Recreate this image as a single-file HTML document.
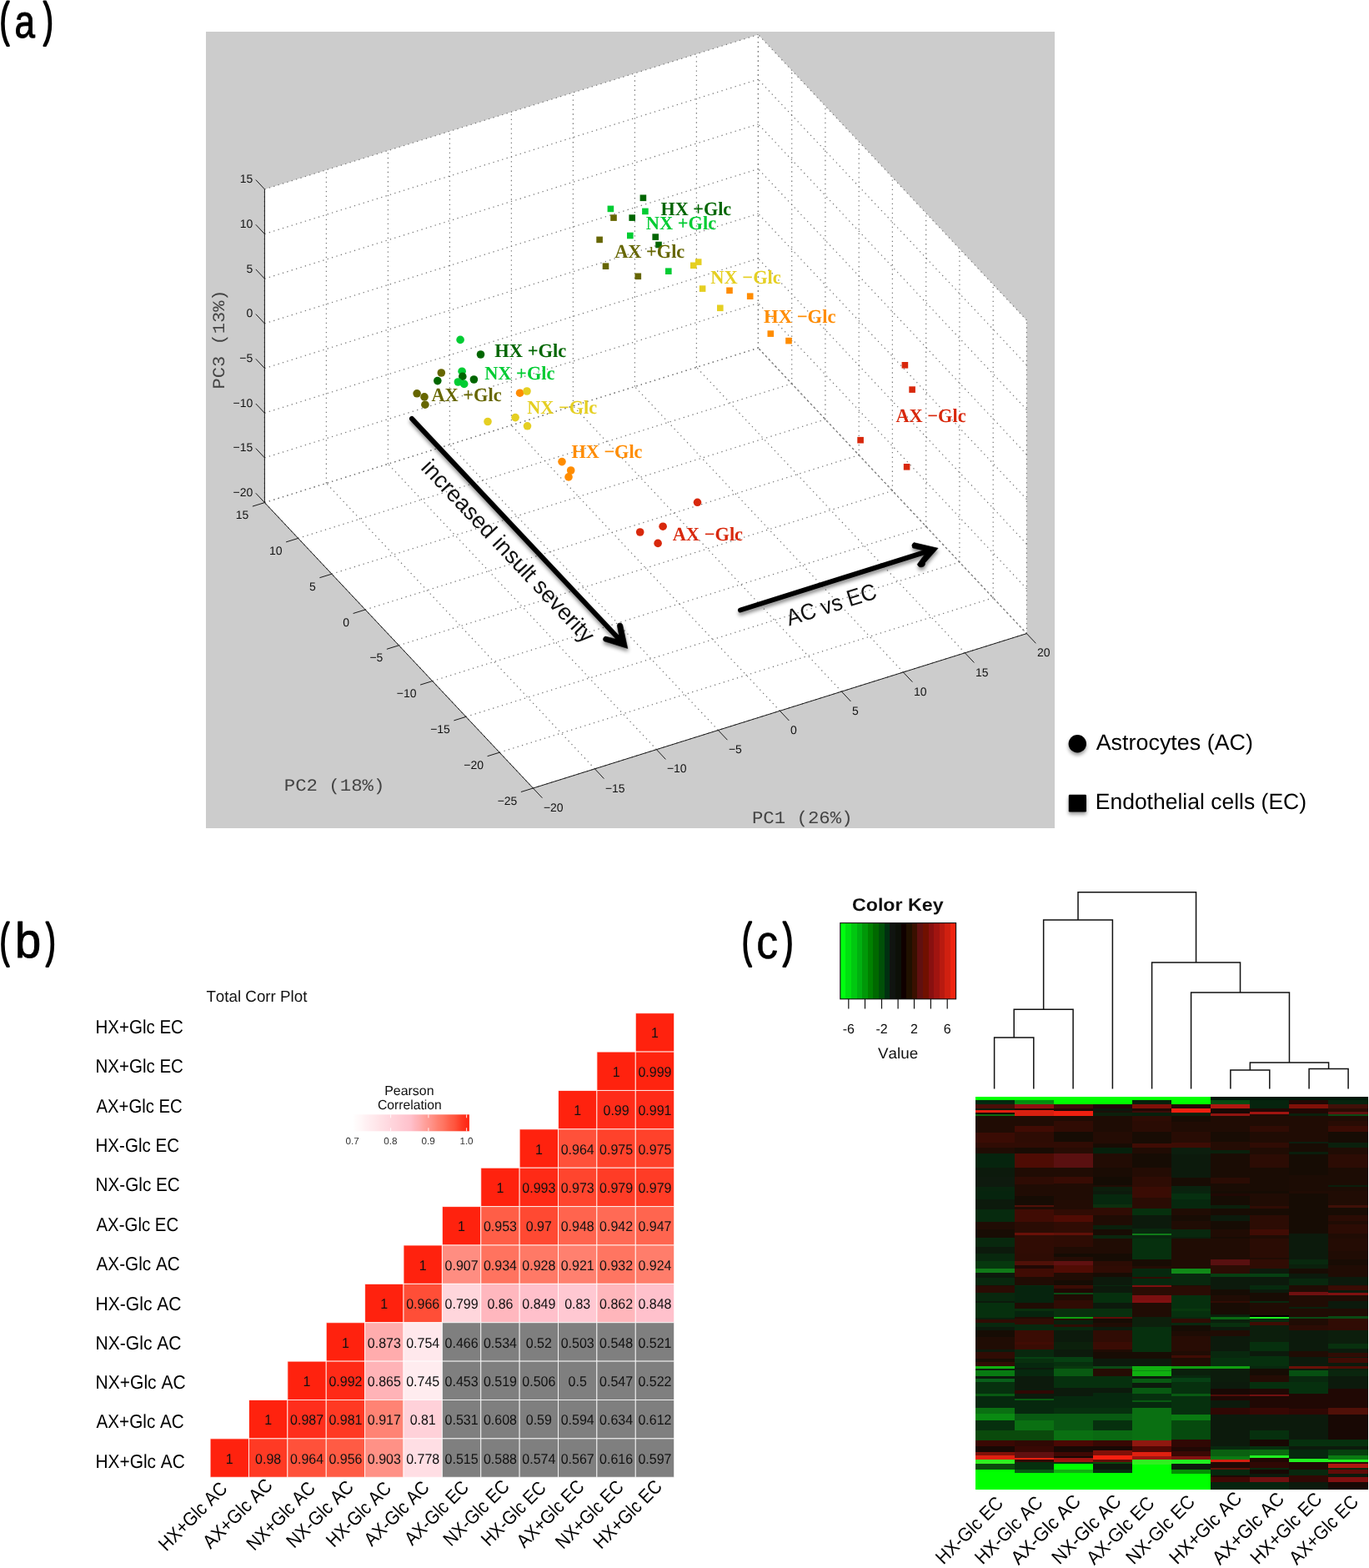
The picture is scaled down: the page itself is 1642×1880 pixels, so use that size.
<!DOCTYPE html><html><head><meta charset="utf-8"><title>Figure</title><style>
html,body{margin:0;padding:0;background:#fff;overflow:hidden}
svg{display:block}
text{font-family:"Liberation Sans",Arial,Helvetica,sans-serif;text-rendering:geometricPrecision;font-kerning:none;font-variant-ligatures:none}
.gd{stroke:#777;stroke-width:1.25;stroke-dasharray:1.3 4.33;fill:none}
.ax{stroke:#1a1a1a;stroke-width:1;fill:none}
.tick text{font-size:14px;fill:#111}
.mono{font-family:"Liberation Mono","Courier New",monospace;font-size:21.5px;fill:#2a2a2a}
.dl text{font-family:"Liberation Serif","Times New Roman",serif;font-weight:bold;font-size:22px}
.arr{font-size:27px;fill:#111}
.leg{font-size:26px;fill:#000}
.plab{font-size:58px;fill:#000}
.hv{fill:#111}
.cv text{font-size:17px;fill:#111;text-anchor:middle}
.cal{font-size:21.5px;fill:#000}
</style></head><body>
<svg width="1642" height="1880" viewBox="0 0 1642 1880">
<defs>
<filter id="sh" x="-20%" y="-20%" width="140%" height="140%"><feDropShadow dx="0.5" dy="3.5" stdDeviation="2.2" flood-color="#000" flood-opacity="0.45"/></filter>
<filter id="sh2" x="-50%" y="-50%" width="200%" height="200%"><feDropShadow dx="0" dy="3" stdDeviation="2" flood-color="#000" flood-opacity="0.4"/></filter>
</defs>
<rect width="1642" height="1880" fill="#fff"/>
<rect x="247" y="38" width="1018" height="955" fill="#cccccc"/>
<polygon fill="#ffffff" points="317.4,226.9 909.4,41.5 1231.4,383.9 1231.4,759.6 639.4,945 317.4,602.6"/>
<g><line class="gd" x1="317.4" y1="602.6" x2="317.4" y2="226.9"/><line class="gd" x1="391.4" y1="579.4" x2="391.4" y2="203.7"/><line class="gd" x1="465.4" y1="556.2" x2="465.4" y2="180.5"/><line class="gd" x1="539.4" y1="533.1" x2="539.4" y2="157.4"/><line class="gd" x1="613.4" y1="509.9" x2="613.4" y2="134.2"/><line class="gd" x1="687.4" y1="486.7" x2="687.4" y2="111"/><line class="gd" x1="761.4" y1="463.6" x2="761.4" y2="87.8"/><line class="gd" x1="835.4" y1="440.4" x2="835.4" y2="64.6"/><line class="gd" x1="909.4" y1="417.2" x2="909.4" y2="41.5"/><line class="gd" x1="317.4" y1="602.6" x2="909.4" y2="417.2"/><line class="gd" x1="317.4" y1="548.9" x2="909.4" y2="363.5"/><line class="gd" x1="317.4" y1="495.2" x2="909.4" y2="309.9"/><line class="gd" x1="317.4" y1="441.6" x2="909.4" y2="256.2"/><line class="gd" x1="317.4" y1="387.9" x2="909.4" y2="202.5"/><line class="gd" x1="317.4" y1="334.2" x2="909.4" y2="148.8"/><line class="gd" x1="317.4" y1="280.5" x2="909.4" y2="95.2"/><line class="gd" x1="317.4" y1="226.9" x2="909.4" y2="41.5"/><line class="gd" x1="1231.4" y1="759.6" x2="1231.4" y2="383.9"/><line class="gd" x1="1191.2" y1="716.8" x2="1191.2" y2="341.1"/><line class="gd" x1="1150.9" y1="674" x2="1150.9" y2="298.3"/><line class="gd" x1="1110.7" y1="631.2" x2="1110.7" y2="255.5"/><line class="gd" x1="1070.4" y1="588.4" x2="1070.4" y2="212.7"/><line class="gd" x1="1030.2" y1="545.6" x2="1030.2" y2="169.9"/><line class="gd" x1="989.9" y1="502.8" x2="989.9" y2="127.1"/><line class="gd" x1="949.7" y1="460" x2="949.7" y2="84.3"/><line class="gd" x1="909.4" y1="417.2" x2="909.4" y2="41.5"/><line class="gd" x1="1231.4" y1="759.6" x2="909.4" y2="417.2"/><line class="gd" x1="1231.4" y1="705.9" x2="909.4" y2="363.5"/><line class="gd" x1="1231.4" y1="652.2" x2="909.4" y2="309.9"/><line class="gd" x1="1231.4" y1="598.6" x2="909.4" y2="256.2"/><line class="gd" x1="1231.4" y1="544.9" x2="909.4" y2="202.5"/><line class="gd" x1="1231.4" y1="491.2" x2="909.4" y2="148.8"/><line class="gd" x1="1231.4" y1="437.6" x2="909.4" y2="95.2"/><line class="gd" x1="1231.4" y1="383.9" x2="909.4" y2="41.5"/><line class="gd" x1="639.4" y1="945" x2="317.4" y2="602.6"/><line class="gd" x1="713.4" y1="921.8" x2="391.4" y2="579.4"/><line class="gd" x1="787.4" y1="898.6" x2="465.4" y2="556.2"/><line class="gd" x1="861.4" y1="875.5" x2="539.4" y2="533.1"/><line class="gd" x1="935.4" y1="852.3" x2="613.4" y2="509.9"/><line class="gd" x1="1009.4" y1="829.1" x2="687.4" y2="486.7"/><line class="gd" x1="1083.4" y1="806" x2="761.4" y2="463.6"/><line class="gd" x1="1157.4" y1="782.8" x2="835.4" y2="440.4"/><line class="gd" x1="1231.4" y1="759.6" x2="909.4" y2="417.2"/><line class="gd" x1="639.4" y1="945" x2="1231.4" y2="759.6"/><line class="gd" x1="599.1" y1="902.2" x2="1191.2" y2="716.8"/><line class="gd" x1="558.9" y1="859.4" x2="1150.9" y2="674"/><line class="gd" x1="518.6" y1="816.6" x2="1110.7" y2="631.2"/><line class="gd" x1="478.4" y1="773.8" x2="1070.4" y2="588.4"/><line class="gd" x1="438.1" y1="731" x2="1030.2" y2="545.6"/><line class="gd" x1="397.9" y1="688.2" x2="989.9" y2="502.8"/><line class="gd" x1="357.6" y1="645.4" x2="949.7" y2="460"/><line class="gd" x1="317.4" y1="602.6" x2="909.4" y2="417.2"/><line class="gd" style="stroke-dashoffset:2.8" x1="909.4" y1="417.2" x2="1231.4" y2="759.6"/></g>
<g><line class="ax" x1="317.4" y1="602.6" x2="317.4" y2="226.9"/><line class="ax" x1="639.4" y1="945" x2="317.4" y2="602.6"/><line class="ax" x1="639.4" y1="945" x2="1231.4" y2="759.6"/><line class="ax" x1="317.4" y1="602.6" x2="306.8" y2="591.3"/><line class="ax" x1="317.4" y1="548.9" x2="306.8" y2="537.6"/><line class="ax" x1="317.4" y1="495.2" x2="306.8" y2="484"/><line class="ax" x1="317.4" y1="441.6" x2="306.8" y2="430.3"/><line class="ax" x1="317.4" y1="387.9" x2="306.8" y2="376.6"/><line class="ax" x1="317.4" y1="334.2" x2="306.8" y2="322.9"/><line class="ax" x1="317.4" y1="280.5" x2="306.8" y2="269.3"/><line class="ax" x1="317.4" y1="226.9" x2="306.8" y2="215.6"/><line class="ax" x1="639.4" y1="945" x2="624.9" y2="949.5"/><line class="ax" x1="599.1" y1="902.2" x2="584.6" y2="906.7"/><line class="ax" x1="558.9" y1="859.4" x2="544.4" y2="863.9"/><line class="ax" x1="518.6" y1="816.6" x2="504.1" y2="821.1"/><line class="ax" x1="478.4" y1="773.8" x2="463.9" y2="778.3"/><line class="ax" x1="438.1" y1="731" x2="423.6" y2="735.5"/><line class="ax" x1="397.9" y1="688.2" x2="383.4" y2="692.7"/><line class="ax" x1="357.6" y1="645.4" x2="343.1" y2="649.9"/><line class="ax" x1="317.4" y1="602.6" x2="302.9" y2="607.1"/><line class="ax" x1="639.4" y1="945" x2="650.4" y2="956.7"/><line class="ax" x1="713.4" y1="921.8" x2="724.4" y2="933.6"/><line class="ax" x1="787.4" y1="898.6" x2="798.4" y2="910.4"/><line class="ax" x1="861.4" y1="875.5" x2="872.4" y2="887.2"/><line class="ax" x1="935.4" y1="852.3" x2="946.4" y2="864"/><line class="ax" x1="1009.4" y1="829.1" x2="1020.4" y2="840.9"/><line class="ax" x1="1083.4" y1="806" x2="1094.4" y2="817.7"/><line class="ax" x1="1157.4" y1="782.8" x2="1168.4" y2="794.5"/><line class="ax" x1="1231.4" y1="759.6" x2="1242.4" y2="771.3"/></g>
<g class="tick"><text x="303.3" y="595.1" text-anchor="end">−20</text><text x="303.3" y="541.4" text-anchor="end">−15</text><text x="303.3" y="487.8" text-anchor="end">−10</text><text x="303.3" y="434.1" text-anchor="end">−5</text><text x="303.3" y="380.4" text-anchor="end">0</text><text x="303.3" y="326.7" text-anchor="end">5</text><text x="303.3" y="273.1" text-anchor="end">10</text><text x="303.3" y="219.4" text-anchor="end">15</text><text x="620.4" y="964.5" text-anchor="end">−25</text><text x="580.1" y="921.7" text-anchor="end">−20</text><text x="539.9" y="878.9" text-anchor="end">−15</text><text x="499.6" y="836.1" text-anchor="end">−10</text><text x="459.4" y="793.3" text-anchor="end">−5</text><text x="419.1" y="750.5" text-anchor="end">0</text><text x="378.9" y="707.7" text-anchor="end">5</text><text x="338.6" y="664.9" text-anchor="end">10</text><text x="298.4" y="622.1" text-anchor="end">15</text><text x="651.9" y="972.7">−20</text><text x="725.9" y="949.6">−15</text><text x="799.9" y="926.4">−10</text><text x="873.9" y="903.2">−5</text><text x="947.9" y="880">0</text><text x="1021.9" y="856.9">5</text><text x="1095.9" y="833.7">10</text><text x="1169.9" y="810.5">15</text><text x="1243.9" y="787.3">20</text></g>
<text style='font-family:"Liberation Mono","Courier New",monospace;font-size:21px;' fill="#444" transform="translate(901.93,986.9) scale(1.0635,1)">PC1 (26%)</text>
<text style='font-family:"Liberation Mono","Courier New",monospace;font-size:20.5px;' fill="#444" transform="translate(340.73,948.2) scale(1.0894,1)">PC2 (18%)</text>
<text style='font-family:"Liberation Mono","Courier New",monospace;font-size:20.5px;' fill="#444" transform="translate(268.7,464.8) rotate(-90) translate(-1.75,0) scale(1.0762,1)">PC3 (13%)</text>
<g><rect x="732.2" y="257.3" width="7.6" height="7.6" fill="#666600"/><rect x="715.3" y="283.6" width="7.6" height="7.6" fill="#666600"/><rect x="722.7" y="315.4" width="7.6" height="7.6" fill="#666600"/><rect x="761.5" y="327.5" width="7.6" height="7.6" fill="#666600"/><rect x="728.6" y="246.6" width="7.6" height="7.6" fill="#00cc33"/><rect x="770.1" y="249.6" width="7.6" height="7.6" fill="#00cc33"/><rect x="752" y="278.7" width="7.6" height="7.6" fill="#00cc33"/><rect x="798" y="321.4" width="7.6" height="7.6" fill="#00cc33"/><rect x="767.6" y="233.5" width="7.6" height="7.6" fill="#006600"/><rect x="754.4" y="257.3" width="7.6" height="7.6" fill="#006600"/><rect x="782.4" y="280.3" width="7.6" height="7.6" fill="#006600"/><rect x="786.2" y="289.7" width="7.6" height="7.6" fill="#006600"/><rect x="833.9" y="310.3" width="7.6" height="7.6" fill="#e5cf22"/><rect x="828" y="314.5" width="7.6" height="7.6" fill="#e5cf22"/><rect x="838.8" y="342.3" width="7.6" height="7.6" fill="#e5cf22"/><rect x="860" y="365.5" width="7.6" height="7.6" fill="#e5cf22"/><rect x="871.2" y="344.5" width="7.6" height="7.6" fill="#ff8c00"/><rect x="895.9" y="351.4" width="7.6" height="7.6" fill="#ff8c00"/><rect x="920.5" y="396.3" width="7.6" height="7.6" fill="#ff8c00"/><rect x="942.2" y="404.8" width="7.6" height="7.6" fill="#ff8c00"/><rect x="1081.6" y="434" width="7.6" height="7.6" fill="#d8280c"/><rect x="1090.3" y="463.3" width="7.6" height="7.6" fill="#d8280c"/><rect x="1028.3" y="523.9" width="7.6" height="7.6" fill="#d8280c"/><rect x="1083.8" y="556" width="7.6" height="7.6" fill="#d8280c"/><circle cx="552.1" cy="407.4" r="4.8" fill="#00cc33"/><circle cx="554.1" cy="445.2" r="4.8" fill="#00cc33"/><circle cx="576.5" cy="425" r="4.8" fill="#006600"/><circle cx="524.8" cy="456.6" r="4.8" fill="#006600"/><circle cx="554.8" cy="451.4" r="4.8" fill="#006600"/><circle cx="568.4" cy="455" r="4.8" fill="#006600"/><circle cx="549.4" cy="458" r="4.8" fill="#00cc33"/><circle cx="556.7" cy="460.4" r="4.8" fill="#00cc33"/><circle cx="529.3" cy="447" r="4.8" fill="#666600"/><circle cx="500.1" cy="471.8" r="4.8" fill="#666600"/><circle cx="509" cy="475.9" r="4.8" fill="#666600"/><circle cx="509.9" cy="485.2" r="4.8" fill="#666600"/><circle cx="623.6" cy="471.2" r="4.8" fill="#ff8c00"/><circle cx="632" cy="469" r="4.8" fill="#e5cf22"/><circle cx="585" cy="505.5" r="4.8" fill="#e5cf22"/><circle cx="618.1" cy="500.6" r="4.8" fill="#e5cf22"/><circle cx="632.5" cy="510.8" r="4.8" fill="#e5cf22"/><circle cx="674" cy="553.6" r="4.8" fill="#ff8c00"/><circle cx="684.7" cy="564" r="4.8" fill="#ff8c00"/><circle cx="682" cy="571.9" r="4.8" fill="#ff8c00"/><circle cx="836.5" cy="602.3" r="4.8" fill="#d8280c"/><circle cx="795.1" cy="631.2" r="4.8" fill="#d8280c"/><circle cx="767.7" cy="638" r="4.8" fill="#d8280c"/><circle cx="789.1" cy="651.4" r="4.8" fill="#d8280c"/></g>
<text style='font-family:"Liberation Serif","Times New Roman",serif;font-size:23px;font-weight:bold;' fill="#006600" transform="translate(792.42,257.5) scale(0.9646,1)">HX +Glc</text>
<text style='font-family:"Liberation Serif","Times New Roman",serif;font-size:23px;font-weight:bold;' fill="#00cc33" transform="translate(774.77,274.6) scale(0.9748,1)">NX +Glc</text>
<text style='font-family:"Liberation Serif","Times New Roman",serif;font-size:23px;font-weight:bold;' fill="#666600" transform="translate(737.18,308.8) scale(0.9712,1)">AX +Glc</text>
<text style='font-family:"Liberation Serif","Times New Roman",serif;font-size:23px;font-weight:bold;' fill="#e5cf22" transform="translate(852.37,339.7) scale(0.9748,1)">NX −Glc</text>
<text style='font-family:"Liberation Serif","Times New Roman",serif;font-size:23px;font-weight:bold;' fill="#ff8c00" transform="translate(916.01,387.2) scale(0.9853,1)">HX −Glc</text>
<text style='font-family:"Liberation Serif","Times New Roman",serif;font-size:23px;font-weight:bold;' fill="#d8280c" transform="translate(1074.48,506.4) scale(0.9712,1)">AX −Glc</text>
<text style='font-family:"Liberation Serif","Times New Roman",serif;font-size:23px;font-weight:bold;' fill="#006600" transform="translate(593.31,427.7) scale(0.9795,1)">HX +Glc</text>
<text style='font-family:"Liberation Serif","Times New Roman",serif;font-size:23px;font-weight:bold;' fill="#00cc33" transform="translate(581.17,454.7) scale(0.9737,1)">NX +Glc</text>
<text style='font-family:"Liberation Serif","Times New Roman",serif;font-size:23px;font-weight:bold;' fill="#666600" transform="translate(517.48,481.3) scale(0.9712,1)">AX +Glc</text>
<text style='font-family:"Liberation Serif","Times New Roman",serif;font-size:23px;font-weight:bold;' fill="#e5cf22" transform="translate(632.28,496.4) scale(0.9690,1)">NX −Glc</text>
<text style='font-family:"Liberation Serif","Times New Roman",serif;font-size:23px;font-weight:bold;' fill="#ff8c00" transform="translate(685.52,548.5) scale(0.9669,1)">HX −Glc</text>
<text style='font-family:"Liberation Serif","Times New Roman",serif;font-size:23px;font-weight:bold;' fill="#d8280c" transform="translate(806.68,647.8) scale(0.9747,1)">AX −Glc</text>
<g filter="url(#sh)"><path d="M494,502 L740,763.5" stroke="#000" stroke-width="6" stroke-linecap="round" fill="none"/><path d="M752.8,777.5 L746.7,749.1 A3.3,3.3 0 0 0 740.3,750 L742.4,761 L737.5,765.9 L726.3,763.1 A3.3,3.3 0 0 0 724.6,768.8 Z" fill="#000" stroke="#000" stroke-width="0.6" stroke-linejoin="round"/><path d="M888,731.5 L1107.5,662.6" stroke="#000" stroke-width="6" stroke-linecap="round" fill="none"/><path d="M1125.1,657.3 L1096.1,650.6 A4.7,4.7 0 0 0 1094.7,656.9 L1106.5,659.8 L1108.5,665.5 L1100.3,676.5 A4.7,4.7 0 0 0 1109.5,674.8 Z" fill="#000" stroke="#000" stroke-width="0.6" stroke-linejoin="round"/></g>
<text style='font-family:"Liberation Sans",Arial,Helvetica,sans-serif;font-size:27.5px;' fill="#111" transform="translate(505,563) rotate(46.8) translate(-1.81,0) scale(0.9843,1)">increased insult severity</text>
<text style='font-family:"Liberation Sans",Arial,Helvetica,sans-serif;font-size:27.5px;' fill="#111" transform="translate(946.5,750.5) rotate(-17.5) translate(-0.05,0) scale(0.9400,1)">AC vs EC</text>
<g filter="url(#sh2)"><circle cx="1292.3" cy="891.7" r="10.7" fill="#000"/><rect x="1281.8" y="952.8" width="21.2" height="20.6" rx="1.2" fill="#000"/></g>
<text style='font-family:"Liberation Sans",Arial,Helvetica,sans-serif;font-size:26.5px;' fill="#000" transform="translate(1314.65,899.3) scale(1.0151,1)">Astrocytes (AC)</text>
<text style='font-family:"Liberation Sans",Arial,Helvetica,sans-serif;font-size:26.5px;' fill="#000" transform="translate(1313.73,969.5) scale(1.0000,1)">Endothelial cells (EC)</text>
<text style='font-family:"Liberation Sans",Arial,Helvetica,sans-serif;font-size:57px' fill="#000" stroke="#000" stroke-width="2.4" stroke-linejoin="round" transform="translate(-0.35,42.8) scale(0.6088,1)">(</text>
<text style='font-family:"Liberation Sans",Arial,Helvetica,sans-serif;font-size:55.67px' fill="#000" stroke="#000" stroke-width="1.1" stroke-linejoin="round" transform="translate(17.58,44.81) scale(0.7903,1)">a</text>
<text style='font-family:"Liberation Sans",Arial,Helvetica,sans-serif;font-size:57px' fill="#000" stroke="#000" stroke-width="2.4" stroke-linejoin="round" transform="translate(51.99,42.8) scale(0.6154,1)">)</text>
<text style='font-family:"Liberation Sans",Arial,Helvetica,sans-serif;font-size:57px' fill="#000" stroke="#000" stroke-width="2.4" stroke-linejoin="round" transform="translate(-0.35,1146.6) scale(0.6088,1)">(</text>
<text style='font-family:"Liberation Sans",Arial,Helvetica,sans-serif;font-size:59.23px' fill="#000" stroke="#000" stroke-width="1" stroke-linejoin="round" transform="translate(17.89,1148.42) scale(0.9460,1)">b</text>
<text style='font-family:"Liberation Sans",Arial,Helvetica,sans-serif;font-size:57px' fill="#000" stroke="#000" stroke-width="2.4" stroke-linejoin="round" transform="translate(54.9,1146.6) scale(0.6088,1)">)</text>
<text style='font-family:"Liberation Sans",Arial,Helvetica,sans-serif;font-size:19px;' fill="#111" transform="translate(247.38,1200.9) scale(0.9884,1)">Total Corr Plot</text>
<g stroke="#ffffff" stroke-width="1" stroke-opacity="0.8"><rect x="762.28" y="1214.7" width="46.38" height="46.38" fill="#ff220e"/><rect x="715.9" y="1261.08" width="46.38" height="46.38" fill="#ff220e"/><rect x="762.28" y="1261.08" width="46.38" height="46.38" fill="#ff240f"/><rect x="669.52" y="1307.46" width="46.38" height="46.38" fill="#ff220e"/><rect x="715.9" y="1307.46" width="46.38" height="46.38" fill="#ff2c19"/><rect x="762.28" y="1307.46" width="46.38" height="46.38" fill="#ff2b18"/><rect x="623.14" y="1353.84" width="46.38" height="46.38" fill="#ff220e"/><rect x="669.52" y="1353.84" width="46.38" height="46.38" fill="#ff513a"/><rect x="715.9" y="1353.84" width="46.38" height="46.38" fill="#ff422b"/><rect x="762.28" y="1353.84" width="46.38" height="46.38" fill="#ff422b"/><rect x="576.76" y="1400.22" width="46.38" height="46.38" fill="#ff220e"/><rect x="623.14" y="1400.22" width="46.38" height="46.38" fill="#ff2a16"/><rect x="669.52" y="1400.22" width="46.38" height="46.38" fill="#ff452e"/><rect x="715.9" y="1400.22" width="46.38" height="46.38" fill="#ff3c26"/><rect x="762.28" y="1400.22" width="46.38" height="46.38" fill="#ff3c26"/><rect x="530.38" y="1446.6" width="46.38" height="46.38" fill="#ff220e"/><rect x="576.76" y="1446.6" width="46.38" height="46.38" fill="#ff5e47"/><rect x="623.14" y="1446.6" width="46.38" height="46.38" fill="#ff4932"/><rect x="669.52" y="1446.6" width="46.38" height="46.38" fill="#ff644e"/><rect x="715.9" y="1446.6" width="46.38" height="46.38" fill="#ff6a55"/><rect x="762.28" y="1446.6" width="46.38" height="46.38" fill="#ff654f"/><rect x="484" y="1492.98" width="46.38" height="46.38" fill="#ff220e"/><rect x="530.38" y="1492.98" width="46.38" height="46.38" fill="#ff8d81"/><rect x="576.76" y="1492.98" width="46.38" height="46.38" fill="#ff735f"/><rect x="623.14" y="1492.98" width="46.38" height="46.38" fill="#ff7966"/><rect x="669.52" y="1492.98" width="46.38" height="46.38" fill="#ff806f"/><rect x="715.9" y="1492.98" width="46.38" height="46.38" fill="#ff7561"/><rect x="762.28" y="1492.98" width="46.38" height="46.38" fill="#ff7d6b"/><rect x="437.62" y="1539.36" width="46.38" height="46.38" fill="#ff220e"/><rect x="484" y="1539.36" width="46.38" height="46.38" fill="#ff4e37"/><rect x="530.38" y="1539.36" width="46.38" height="46.38" fill="#ffd6dc"/><rect x="576.76" y="1539.36" width="46.38" height="46.38" fill="#ffb7be"/><rect x="623.14" y="1539.36" width="46.38" height="46.38" fill="#ffc0cb"/><rect x="669.52" y="1539.36" width="46.38" height="46.38" fill="#ffc8d2"/><rect x="715.9" y="1539.36" width="46.38" height="46.38" fill="#ffb6bb"/><rect x="762.28" y="1539.36" width="46.38" height="46.38" fill="#ffc1cc"/><rect x="391.24" y="1585.74" width="46.38" height="46.38" fill="#ff220e"/><rect x="437.62" y="1585.74" width="46.38" height="46.38" fill="#ffacad"/><rect x="484" y="1585.74" width="46.38" height="46.38" fill="#ffe8ec"/><rect x="530.38" y="1585.74" width="46.38" height="46.38" fill="#7f7f7f"/><rect x="576.76" y="1585.74" width="46.38" height="46.38" fill="#7f7f7f"/><rect x="623.14" y="1585.74" width="46.38" height="46.38" fill="#7f7f7f"/><rect x="669.52" y="1585.74" width="46.38" height="46.38" fill="#7f7f7f"/><rect x="715.9" y="1585.74" width="46.38" height="46.38" fill="#7f7f7f"/><rect x="762.28" y="1585.74" width="46.38" height="46.38" fill="#7f7f7f"/><rect x="344.86" y="1632.12" width="46.38" height="46.38" fill="#ff220e"/><rect x="391.24" y="1632.12" width="46.38" height="46.38" fill="#ff2a17"/><rect x="437.62" y="1632.12" width="46.38" height="46.38" fill="#ffb3b7"/><rect x="484" y="1632.12" width="46.38" height="46.38" fill="#ffecef"/><rect x="530.38" y="1632.12" width="46.38" height="46.38" fill="#7f7f7f"/><rect x="576.76" y="1632.12" width="46.38" height="46.38" fill="#7f7f7f"/><rect x="623.14" y="1632.12" width="46.38" height="46.38" fill="#7f7f7f"/><rect x="669.52" y="1632.12" width="46.38" height="46.38" fill="#7f7f7f"/><rect x="715.9" y="1632.12" width="46.38" height="46.38" fill="#7f7f7f"/><rect x="762.28" y="1632.12" width="46.38" height="46.38" fill="#7f7f7f"/><rect x="298.48" y="1678.5" width="46.38" height="46.38" fill="#ff220e"/><rect x="344.86" y="1678.5" width="46.38" height="46.38" fill="#ff2e1c"/><rect x="391.24" y="1678.5" width="46.38" height="46.38" fill="#ff3923"/><rect x="437.62" y="1678.5" width="46.38" height="46.38" fill="#ff8374"/><rect x="484" y="1678.5" width="46.38" height="46.38" fill="#ffd1d9"/><rect x="530.38" y="1678.5" width="46.38" height="46.38" fill="#7f7f7f"/><rect x="576.76" y="1678.5" width="46.38" height="46.38" fill="#7f7f7f"/><rect x="623.14" y="1678.5" width="46.38" height="46.38" fill="#7f7f7f"/><rect x="669.52" y="1678.5" width="46.38" height="46.38" fill="#7f7f7f"/><rect x="715.9" y="1678.5" width="46.38" height="46.38" fill="#7f7f7f"/><rect x="762.28" y="1678.5" width="46.38" height="46.38" fill="#7f7f7f"/><rect x="252.1" y="1724.88" width="46.38" height="46.38" fill="#ff220e"/><rect x="298.48" y="1724.88" width="46.38" height="46.38" fill="#ff3a24"/><rect x="344.86" y="1724.88" width="46.38" height="46.38" fill="#ff513a"/><rect x="391.24" y="1724.88" width="46.38" height="46.38" fill="#ff5b44"/><rect x="437.62" y="1724.88" width="46.38" height="46.38" fill="#ff9186"/><rect x="484" y="1724.88" width="46.38" height="46.38" fill="#ffdee4"/><rect x="530.38" y="1724.88" width="46.38" height="46.38" fill="#7f7f7f"/><rect x="576.76" y="1724.88" width="46.38" height="46.38" fill="#7f7f7f"/><rect x="623.14" y="1724.88" width="46.38" height="46.38" fill="#7f7f7f"/><rect x="669.52" y="1724.88" width="46.38" height="46.38" fill="#7f7f7f"/><rect x="715.9" y="1724.88" width="46.38" height="46.38" fill="#7f7f7f"/><rect x="762.28" y="1724.88" width="46.38" height="46.38" fill="#7f7f7f"/></g>
<g class="cv"><text transform="translate(785.47,1244.49) scale(0.94,1)">1</text><text transform="translate(739.09,1290.87) scale(0.94,1)">1</text><text transform="translate(785.47,1290.87) scale(0.94,1)">0.999</text><text transform="translate(692.71,1337.25) scale(0.94,1)">1</text><text transform="translate(739.09,1337.25) scale(0.94,1)">0.99</text><text transform="translate(785.47,1337.25) scale(0.94,1)">0.991</text><text transform="translate(646.33,1383.63) scale(0.94,1)">1</text><text transform="translate(692.71,1383.63) scale(0.94,1)">0.964</text><text transform="translate(739.09,1383.63) scale(0.94,1)">0.975</text><text transform="translate(785.47,1383.63) scale(0.94,1)">0.975</text><text transform="translate(599.95,1430.01) scale(0.94,1)">1</text><text transform="translate(646.33,1430.01) scale(0.94,1)">0.993</text><text transform="translate(692.71,1430.01) scale(0.94,1)">0.973</text><text transform="translate(739.09,1430.01) scale(0.94,1)">0.979</text><text transform="translate(785.47,1430.01) scale(0.94,1)">0.979</text><text transform="translate(553.57,1476.39) scale(0.94,1)">1</text><text transform="translate(599.95,1476.39) scale(0.94,1)">0.953</text><text transform="translate(646.33,1476.39) scale(0.94,1)">0.97</text><text transform="translate(692.71,1476.39) scale(0.94,1)">0.948</text><text transform="translate(739.09,1476.39) scale(0.94,1)">0.942</text><text transform="translate(785.47,1476.39) scale(0.94,1)">0.947</text><text transform="translate(507.19,1522.77) scale(0.94,1)">1</text><text transform="translate(553.57,1522.77) scale(0.94,1)">0.907</text><text transform="translate(599.95,1522.77) scale(0.94,1)">0.934</text><text transform="translate(646.33,1522.77) scale(0.94,1)">0.928</text><text transform="translate(692.71,1522.77) scale(0.94,1)">0.921</text><text transform="translate(739.09,1522.77) scale(0.94,1)">0.932</text><text transform="translate(785.47,1522.77) scale(0.94,1)">0.924</text><text transform="translate(460.81,1569.15) scale(0.94,1)">1</text><text transform="translate(507.19,1569.15) scale(0.94,1)">0.966</text><text transform="translate(553.57,1569.15) scale(0.94,1)">0.799</text><text transform="translate(599.95,1569.15) scale(0.94,1)">0.86</text><text transform="translate(646.33,1569.15) scale(0.94,1)">0.849</text><text transform="translate(692.71,1569.15) scale(0.94,1)">0.83</text><text transform="translate(739.09,1569.15) scale(0.94,1)">0.862</text><text transform="translate(785.47,1569.15) scale(0.94,1)">0.848</text><text transform="translate(414.43,1615.53) scale(0.94,1)">1</text><text transform="translate(460.81,1615.53) scale(0.94,1)">0.873</text><text transform="translate(507.19,1615.53) scale(0.94,1)">0.754</text><text transform="translate(553.57,1615.53) scale(0.94,1)">0.466</text><text transform="translate(599.95,1615.53) scale(0.94,1)">0.534</text><text transform="translate(646.33,1615.53) scale(0.94,1)">0.52</text><text transform="translate(692.71,1615.53) scale(0.94,1)">0.503</text><text transform="translate(739.09,1615.53) scale(0.94,1)">0.548</text><text transform="translate(785.47,1615.53) scale(0.94,1)">0.521</text><text transform="translate(368.05,1661.91) scale(0.94,1)">1</text><text transform="translate(414.43,1661.91) scale(0.94,1)">0.992</text><text transform="translate(460.81,1661.91) scale(0.94,1)">0.865</text><text transform="translate(507.19,1661.91) scale(0.94,1)">0.745</text><text transform="translate(553.57,1661.91) scale(0.94,1)">0.453</text><text transform="translate(599.95,1661.91) scale(0.94,1)">0.519</text><text transform="translate(646.33,1661.91) scale(0.94,1)">0.506</text><text transform="translate(692.71,1661.91) scale(0.94,1)">0.5</text><text transform="translate(739.09,1661.91) scale(0.94,1)">0.547</text><text transform="translate(785.47,1661.91) scale(0.94,1)">0.522</text><text transform="translate(321.67,1708.29) scale(0.94,1)">1</text><text transform="translate(368.05,1708.29) scale(0.94,1)">0.987</text><text transform="translate(414.43,1708.29) scale(0.94,1)">0.981</text><text transform="translate(460.81,1708.29) scale(0.94,1)">0.917</text><text transform="translate(507.19,1708.29) scale(0.94,1)">0.81</text><text transform="translate(553.57,1708.29) scale(0.94,1)">0.531</text><text transform="translate(599.95,1708.29) scale(0.94,1)">0.608</text><text transform="translate(646.33,1708.29) scale(0.94,1)">0.59</text><text transform="translate(692.71,1708.29) scale(0.94,1)">0.594</text><text transform="translate(739.09,1708.29) scale(0.94,1)">0.634</text><text transform="translate(785.47,1708.29) scale(0.94,1)">0.612</text><text transform="translate(275.29,1754.67) scale(0.94,1)">1</text><text transform="translate(321.67,1754.67) scale(0.94,1)">0.98</text><text transform="translate(368.05,1754.67) scale(0.94,1)">0.964</text><text transform="translate(414.43,1754.67) scale(0.94,1)">0.956</text><text transform="translate(460.81,1754.67) scale(0.94,1)">0.903</text><text transform="translate(507.19,1754.67) scale(0.94,1)">0.778</text><text transform="translate(553.57,1754.67) scale(0.94,1)">0.515</text><text transform="translate(599.95,1754.67) scale(0.94,1)">0.588</text><text transform="translate(646.33,1754.67) scale(0.94,1)">0.574</text><text transform="translate(692.71,1754.67) scale(0.94,1)">0.567</text><text transform="translate(739.09,1754.67) scale(0.94,1)">0.616</text><text transform="translate(785.47,1754.67) scale(0.94,1)">0.597</text></g>
<defs><linearGradient id="pg" x1="0" x2="1" y1="0" y2="0"><stop offset="0" stop-color="#ffffff"/><stop offset="0.03" stop-color="#fffbfb"/><stop offset="0.07" stop-color="#fff7f8"/><stop offset="0.1" stop-color="#fff2f4"/><stop offset="0.13" stop-color="#ffeef1"/><stop offset="0.17" stop-color="#ffeaed"/><stop offset="0.2" stop-color="#ffe6ea"/><stop offset="0.23" stop-color="#ffe2e6"/><stop offset="0.27" stop-color="#ffdde3"/><stop offset="0.3" stop-color="#ffd9e0"/><stop offset="0.33" stop-color="#ffd5dc"/><stop offset="0.37" stop-color="#ffd1d9"/><stop offset="0.4" stop-color="#ffcdd5"/><stop offset="0.43" stop-color="#ffc8d2"/><stop offset="0.47" stop-color="#ffc4ce"/><stop offset="0.5" stop-color="#ffc0cb"/><stop offset="0.53" stop-color="#ffb7be"/><stop offset="0.57" stop-color="#ffaeb1"/><stop offset="0.6" stop-color="#ffa6a3"/><stop offset="0.63" stop-color="#ff9d97"/><stop offset="0.67" stop-color="#ff938a"/><stop offset="0.7" stop-color="#ff8a7d"/><stop offset="0.73" stop-color="#ff8070"/><stop offset="0.77" stop-color="#ff7764"/><stop offset="0.8" stop-color="#ff6c58"/><stop offset="0.83" stop-color="#ff614b"/><stop offset="0.87" stop-color="#ff563f"/><stop offset="0.9" stop-color="#ff4932"/><stop offset="0.93" stop-color="#ff3a24"/><stop offset="0.97" stop-color="#ff2c19"/><stop offset="1" stop-color="#ff220e"/></linearGradient></defs>
<rect x="423.1" y="1336.3" width="139.8" height="20" fill="url(#pg)"/>
<g stroke="#ffffff" stroke-width="0.9"><line x1="468.6" y1="1336.3" x2="468.6" y2="1340.3"/><line x1="468.6" y1="1352.3" x2="468.6" y2="1356.3"/><line x1="513.9" y1="1336.3" x2="513.9" y2="1340.3"/><line x1="513.9" y1="1352.3" x2="513.9" y2="1356.3"/><line x1="559.6" y1="1336.3" x2="559.6" y2="1340.3"/><line x1="559.6" y1="1352.3" x2="559.6" y2="1356.3"/></g>
<text style='font-family:"Liberation Sans",Arial,Helvetica,sans-serif;font-size:16px;' fill="#111" transform="translate(461.19,1313) scale(0.9958,1)">Pearson</text>
<text style='font-family:"Liberation Sans",Arial,Helvetica,sans-serif;font-size:16px;' fill="#111" transform="translate(453,1330) scale(0.9803,1)">Correlation</text>
<text style="font-family:'Liberation Sans',Arial,sans-serif;font-size:11.7px" x="422.7" y="1371.7" fill="#333" text-anchor="middle">0.7</text>
<text style="font-family:'Liberation Sans',Arial,sans-serif;font-size:11.7px" x="468.3" y="1371.7" fill="#333" text-anchor="middle">0.8</text>
<text style="font-family:'Liberation Sans',Arial,sans-serif;font-size:11.7px" x="513.7" y="1371.7" fill="#333" text-anchor="middle">0.9</text>
<text style="font-family:'Liberation Sans',Arial,sans-serif;font-size:11.7px" x="559.5" y="1371.7" fill="#333" text-anchor="middle">1.0</text>
<text style='font-family:"Liberation Sans",Arial,Helvetica,sans-serif;font-size:23px;' fill="#000" transform="translate(114.52,1239) scale(0.8912,1)">HX+Glc EC</text>
<text style='font-family:"Liberation Sans",Arial,Helvetica,sans-serif;font-size:23px;' fill="#000" transform="translate(114.52,1286.4) scale(0.8912,1)">NX+Glc EC</text>
<text style='font-family:"Liberation Sans",Arial,Helvetica,sans-serif;font-size:23px;' fill="#000" transform="translate(115.46,1334.2) scale(0.8834,1)">AX+Glc EC</text>
<text style='font-family:"Liberation Sans",Arial,Helvetica,sans-serif;font-size:23px;' fill="#000" transform="translate(114.51,1381.3) scale(0.8934,1)">HX-Glc EC</text>
<text style='font-family:"Liberation Sans",Arial,Helvetica,sans-serif;font-size:23px;' fill="#000" transform="translate(114.5,1428.3) scale(0.9007,1)">NX-Glc EC</text>
<text style='font-family:"Liberation Sans",Arial,Helvetica,sans-serif;font-size:23px;' fill="#000" transform="translate(115.46,1475.7) scale(0.8879,1)">AX-Glc EC</text>
<text style='font-family:"Liberation Sans",Arial,Helvetica,sans-serif;font-size:23px;' fill="#000" transform="translate(115.46,1522.9) scale(0.9024,1)">AX-Glc AC</text>
<text style='font-family:"Liberation Sans",Arial,Helvetica,sans-serif;font-size:23px;' fill="#000" transform="translate(114.47,1570.5) scale(0.9171,1)">HX-Glc AC</text>
<text style='font-family:"Liberation Sans",Arial,Helvetica,sans-serif;font-size:23px;' fill="#000" transform="translate(114.47,1618.1) scale(0.9171,1)">NX-Glc AC</text>
<text style='font-family:"Liberation Sans",Arial,Helvetica,sans-serif;font-size:23px;' fill="#000" transform="translate(114.47,1664.7) scale(0.9155,1)">NX+Glc AC</text>
<text style='font-family:"Liberation Sans",Arial,Helvetica,sans-serif;font-size:23px;' fill="#000" transform="translate(115.46,1712.2) scale(0.9006,1)">AX+Glc AC</text>
<text style='font-family:"Liberation Sans",Arial,Helvetica,sans-serif;font-size:23px;' fill="#000" transform="translate(114.49,1759.7) scale(0.9085,1)">HX+Glc AC</text>
<text style='font-family:"Liberation Sans",Arial,Helvetica,sans-serif;font-size:23px;' fill="#000" transform="translate(200.7,1859.5) rotate(-45) translate(-1.68,0) scale(0.8895,1)">HX+Glc AC</text>
<text style='font-family:"Liberation Sans",Arial,Helvetica,sans-serif;font-size:23px;' fill="#000" transform="translate(252.5,1858) rotate(-45) translate(-0.04,0) scale(0.9170,1)">AX+Glc AC</text>
<text style='font-family:"Liberation Sans",Arial,Helvetica,sans-serif;font-size:23px;' fill="#000" transform="translate(306.3,1859) rotate(-45) translate(-1.68,0) scale(0.8895,1)">NX+Glc AC</text>
<text style='font-family:"Liberation Sans",Arial,Helvetica,sans-serif;font-size:23px;' fill="#000" transform="translate(354,1856) rotate(-45) translate(-1.73,0) scale(0.9162,1)">NX-Glc AC</text>
<text style='font-family:"Liberation Sans",Arial,Helvetica,sans-serif;font-size:23px;' fill="#000" transform="translate(401.6,1855) rotate(-45) translate(-1.67,0) scale(0.8825,1)">HX-Glc AC</text>
<text style='font-family:"Liberation Sans",Arial,Helvetica,sans-serif;font-size:23px;' fill="#000" transform="translate(446.1,1855) rotate(-45) translate(-0.04,0) scale(0.8906,1)">AX-Glc AC</text>
<text style='font-family:"Liberation Sans",Arial,Helvetica,sans-serif;font-size:23px;' fill="#000" transform="translate(494.5,1853.9) rotate(-45) translate(-0.04,0) scale(0.8779,1)">AX-Glc EC</text>
<text style='font-family:"Liberation Sans",Arial,Helvetica,sans-serif;font-size:23px;' fill="#000" transform="translate(542.1,1853.9) rotate(-45) translate(-1.69,0) scale(0.8962,1)">NX-Glc EC</text>
<text style='font-family:"Liberation Sans",Arial,Helvetica,sans-serif;font-size:23px;' fill="#000" transform="translate(587.7,1853.9) rotate(-45) translate(-1.65,0) scale(0.8770,1)">HX-Glc EC</text>
<text style='font-family:"Liberation Sans",Arial,Helvetica,sans-serif;font-size:23px;' fill="#000" transform="translate(629.1,1857) rotate(-45) translate(-0.04,0) scale(0.8842,1)">AX+Glc EC</text>
<text style='font-family:"Liberation Sans",Arial,Helvetica,sans-serif;font-size:23px;' fill="#000" transform="translate(676.7,1857) rotate(-45) translate(-1.67,0) scale(0.8826,1)">NX+Glc EC</text>
<text style='font-family:"Liberation Sans",Arial,Helvetica,sans-serif;font-size:23px;' fill="#000" transform="translate(722.3,1857) rotate(-45) translate(-1.68,0) scale(0.8886,1)">HX+Glc EC</text>
<text style='font-family:"Liberation Sans",Arial,Helvetica,sans-serif;font-size:57.53px' fill="#000" stroke="#000" stroke-width="2.4" stroke-linejoin="round" transform="translate(890.02,1146.89) scale(0.6097,1)">(</text>
<text style='font-family:"Liberation Sans",Arial,Helvetica,sans-serif;font-size:56.4px' fill="#000" stroke="#000" stroke-width="0.6" stroke-linejoin="round" transform="translate(907.3,1148.75) scale(0.9170,1)">c</text>
<text style='font-family:"Liberation Sans",Arial,Helvetica,sans-serif;font-size:57.53px' fill="#000" stroke="#000" stroke-width="2.4" stroke-linejoin="round" transform="translate(938.98,1146.89) scale(0.6425,1)">)</text>
<text style='font-family:"Liberation Sans",Arial,Helvetica,sans-serif;font-size:21.3px;font-weight:bold;' fill="#111" transform="translate(1021.95,1091.5) scale(1.0902,1)">Color Key</text>
<g shape-rendering="crispEdges"><rect x="1007.8" y="1106.6" width="7.01" height="91.2" fill="#00ff10"/><rect x="1014.41" y="1106.6" width="7.01" height="91.2" fill="#00e010"/><rect x="1021.02" y="1106.6" width="7.01" height="91.2" fill="#00c810"/><rect x="1027.63" y="1106.6" width="7.01" height="91.2" fill="#00b010"/><rect x="1034.24" y="1106.6" width="7.01" height="91.2" fill="#009808"/><rect x="1040.85" y="1106.6" width="7.01" height="91.2" fill="#008000"/><rect x="1047.46" y="1106.6" width="7.01" height="91.2" fill="#006800"/><rect x="1054.07" y="1106.6" width="7.01" height="91.2" fill="#005008"/><rect x="1060.68" y="1106.6" width="7.01" height="91.2" fill="#003010"/><rect x="1067.29" y="1106.6" width="7.01" height="91.2" fill="#101410"/><rect x="1073.9" y="1106.6" width="7.01" height="91.2" fill="#0c1008"/><rect x="1080.5" y="1106.6" width="7.01" height="91.2" fill="#100000"/><rect x="1087.11" y="1106.6" width="7.01" height="91.2" fill="#201000"/><rect x="1093.72" y="1106.6" width="7.01" height="91.2" fill="#3a1000"/><rect x="1100.33" y="1106.6" width="7.01" height="91.2" fill="#601010"/><rect x="1106.94" y="1106.6" width="7.01" height="91.2" fill="#701000"/><rect x="1113.55" y="1106.6" width="7.01" height="91.2" fill="#881010"/><rect x="1120.16" y="1106.6" width="7.01" height="91.2" fill="#a01410"/><rect x="1126.77" y="1106.6" width="7.01" height="91.2" fill="#b81a10"/><rect x="1133.38" y="1106.6" width="7.01" height="91.2" fill="#d02010"/><rect x="1139.99" y="1106.6" width="7.01" height="91.2" fill="#f02510"/></g>
<rect x="1007.8" y="1106.6" width="138.8" height="91.2" fill="none" stroke="#111" stroke-width="1.1"/>
<g stroke="#111" stroke-width="1.2"><line x1="1017.8" y1="1197.8" x2="1017.8" y2="1209.5"/><line x1="1037.5" y1="1197.8" x2="1037.5" y2="1209.5"/><line x1="1057.5" y1="1197.8" x2="1057.5" y2="1209.5"/><line x1="1077.1" y1="1197.8" x2="1077.1" y2="1209.5"/><line x1="1096.5" y1="1197.8" x2="1096.5" y2="1209.5"/><line x1="1116.4" y1="1197.8" x2="1116.4" y2="1209.5"/><line x1="1136.2" y1="1197.8" x2="1136.2" y2="1209.5"/></g>
<text style="font-family:'Liberation Sans',Arial,sans-serif;font-size:16px" x="1017.8" y="1238.8" fill="#111" text-anchor="middle">-6</text>
<text style="font-family:'Liberation Sans',Arial,sans-serif;font-size:16px" x="1057.5" y="1238.8" fill="#111" text-anchor="middle">-2</text>
<text style="font-family:'Liberation Sans',Arial,sans-serif;font-size:16px" x="1096.5" y="1238.8" fill="#111" text-anchor="middle">2</text>
<text style="font-family:'Liberation Sans',Arial,sans-serif;font-size:16px" x="1136.2" y="1238.8" fill="#111" text-anchor="middle">6</text>
<text style='font-family:"Liberation Sans",Arial,Helvetica,sans-serif;font-size:18.3px;' fill="#111" transform="translate(1053.02,1269.4) scale(1.0281,1)">Value</text>
<path d="M1192.6,1305.4V1244H1239.8V1305.4M1216.2,1244V1210.3H1287.1V1305.4M1251.65,1210.3V1103.1H1334.4V1305.4M1475.9,1305.4V1283.1H1522.8V1305.4M1570.1,1305.4V1281.6H1617.1V1305.4M1499.35,1283.1V1274H1593.6V1281.6M1428.6,1305.4V1190H1546.47V1274M1381.6,1305.4V1153.9H1487.54V1190M1293.03,1103.1V1069.7H1434.57V1153.9" fill="none" stroke="#111" stroke-width="1.5"/>
<g shape-rendering="crispEdges"><rect x="1169.5" y="1314.77" width="47.41" height="4.78" fill="#00ff00"/><rect x="1169.5" y="1319.25" width="47.41" height="5.22" fill="#002a10"/><rect x="1169.5" y="1324.17" width="47.41" height="4.78" fill="#4a0e08"/><rect x="1169.5" y="1328.65" width="47.41" height="2.54" fill="#0d1a0d"/><rect x="1169.5" y="1330.89" width="47.41" height="3.28" fill="#e02010"/><rect x="1169.5" y="1333.87" width="47.41" height="2.09" fill="#1a0a05"/><rect x="1169.5" y="1335.66" width="47.41" height="2.99" fill="#0a6a10"/><rect x="1169.5" y="1338.35" width="47.41" height="19.7" fill="#200c04"/><rect x="1169.5" y="1357.75" width="47.41" height="12.24" fill="#3a0c04"/><rect x="1169.5" y="1369.68" width="47.41" height="7.01" fill="#300c04"/><rect x="1169.5" y="1376.4" width="47.41" height="7.01" fill="#200c04"/><rect x="1169.5" y="1383.11" width="47.41" height="17.46" fill="#06240e"/><rect x="1169.5" y="1400.27" width="47.41" height="11.49" fill="#0c1a0c"/><rect x="1169.5" y="1411.46" width="47.41" height="12.24" fill="#0e1a0e"/><rect x="1169.5" y="1423.4" width="47.41" height="4.9" fill="#08240e"/><rect x="1216.61" y="1314.77" width="47.41" height="4.78" fill="#00ff00"/><rect x="1216.61" y="1319.25" width="47.41" height="5.22" fill="#009010"/><rect x="1216.61" y="1324.17" width="47.41" height="4.78" fill="#901010"/><rect x="1216.61" y="1328.65" width="47.41" height="2.54" fill="#200804"/><rect x="1216.61" y="1330.89" width="47.41" height="7.76" fill="#d82010"/><rect x="1216.61" y="1338.35" width="47.41" height="11.94" fill="#200c04"/><rect x="1216.61" y="1349.99" width="47.41" height="7.76" fill="#400c04"/><rect x="1216.61" y="1357.45" width="47.41" height="12.54" fill="#2e0c04"/><rect x="1216.61" y="1369.68" width="47.41" height="7.01" fill="#300c04"/><rect x="1216.61" y="1376.4" width="47.41" height="7.01" fill="#180c04"/><rect x="1216.61" y="1383.11" width="47.41" height="17.46" fill="#4e0c04"/><rect x="1216.61" y="1400.27" width="47.41" height="11.49" fill="#200c04"/><rect x="1216.61" y="1411.46" width="47.41" height="9.25" fill="#2e0c04"/><rect x="1216.61" y="1420.41" width="47.41" height="7.89" fill="#200c04"/><rect x="1263.72" y="1314.77" width="47.41" height="9.7" fill="#00ff00"/><rect x="1263.72" y="1324.17" width="47.41" height="4.78" fill="#400c08"/><rect x="1263.72" y="1328.65" width="47.41" height="3.28" fill="#200804"/><rect x="1263.72" y="1331.64" width="47.41" height="7.01" fill="#f02010"/><rect x="1263.72" y="1338.35" width="47.41" height="6.27" fill="#200c04"/><rect x="1263.72" y="1344.32" width="47.41" height="13.43" fill="#300c04"/><rect x="1263.72" y="1357.45" width="47.41" height="11.79" fill="#160c04"/><rect x="1263.72" y="1368.94" width="47.41" height="7.76" fill="#300c04"/><rect x="1263.72" y="1376.4" width="47.41" height="7.01" fill="#280c04"/><rect x="1263.72" y="1383.11" width="47.41" height="17.46" fill="#5a1010"/><rect x="1263.72" y="1400.27" width="47.41" height="11.49" fill="#200c04"/><rect x="1263.72" y="1411.46" width="47.41" height="7.76" fill="#380c04"/><rect x="1263.72" y="1418.92" width="47.41" height="9.38" fill="#200c04"/><rect x="1310.83" y="1314.77" width="47.41" height="9.7" fill="#00ff00"/><rect x="1310.83" y="1324.17" width="47.41" height="4.78" fill="#200808"/><rect x="1310.83" y="1328.65" width="47.41" height="3.28" fill="#0c180c"/><rect x="1310.83" y="1331.64" width="47.41" height="2.54" fill="#1a1008"/><rect x="1310.83" y="1333.87" width="47.41" height="4.78" fill="#0c200c"/><rect x="1310.83" y="1338.35" width="47.41" height="19.4" fill="#1e0c04"/><rect x="1310.83" y="1357.45" width="47.41" height="14.03" fill="#240c04"/><rect x="1310.83" y="1371.18" width="47.41" height="5.52" fill="#180c04"/><rect x="1310.83" y="1376.4" width="47.41" height="7.01" fill="#06200c"/><rect x="1310.83" y="1383.11" width="47.41" height="17.46" fill="#220c04"/><rect x="1310.83" y="1400.27" width="47.41" height="11.49" fill="#1a0c04"/><rect x="1310.83" y="1411.46" width="47.41" height="10" fill="#140c04"/><rect x="1310.83" y="1421.16" width="47.41" height="2.54" fill="#200c04"/><rect x="1310.83" y="1423.4" width="47.41" height="4.9" fill="#0c1e0c"/><rect x="1357.94" y="1314.77" width="47.41" height="4.78" fill="#00ff00"/><rect x="1357.94" y="1319.25" width="47.41" height="5.22" fill="#06200c"/><rect x="1357.94" y="1324.17" width="47.41" height="4.78" fill="#801008"/><rect x="1357.94" y="1328.65" width="47.41" height="3.28" fill="#200804"/><rect x="1357.94" y="1331.64" width="47.41" height="2.54" fill="#3a0c08"/><rect x="1357.94" y="1333.87" width="47.41" height="4.78" fill="#06200c"/><rect x="1357.94" y="1338.35" width="47.41" height="6.27" fill="#2e0c04"/><rect x="1357.94" y="1344.32" width="47.41" height="13.43" fill="#2a0c04"/><rect x="1357.94" y="1357.45" width="47.41" height="14.03" fill="#180c04"/><rect x="1357.94" y="1371.18" width="47.41" height="5.52" fill="#400c04"/><rect x="1357.94" y="1376.4" width="47.41" height="7.01" fill="#200c04"/><rect x="1357.94" y="1383.11" width="47.41" height="17.46" fill="#160c04"/><rect x="1357.94" y="1400.27" width="47.41" height="11.49" fill="#240c04"/><rect x="1357.94" y="1411.46" width="47.41" height="12.24" fill="#2e0c04"/><rect x="1357.94" y="1423.4" width="47.41" height="4.9" fill="#3a0c04"/><rect x="1405.05" y="1314.72" width="47.41" height="9.59" fill="#00ff00"/><rect x="1405.05" y="1324" width="47.41" height="5.16" fill="#200804"/><rect x="1405.05" y="1328.87" width="47.41" height="5.02" fill="#f02010"/><rect x="1405.05" y="1333.58" width="47.41" height="4.72" fill="#0a200c"/><rect x="1405.05" y="1338" width="47.41" height="7.67" fill="#180c04"/><rect x="1405.05" y="1345.37" width="47.41" height="12.09" fill="#200c04"/><rect x="1405.05" y="1357.16" width="47.41" height="13.56" fill="#280c04"/><rect x="1405.05" y="1370.43" width="47.41" height="6.2" fill="#3e0c04"/><rect x="1405.05" y="1376.32" width="47.41" height="7.67" fill="#0c1e0e"/><rect x="1405.05" y="1383.69" width="47.41" height="28.3" fill="#0c1a0c"/><rect x="1405.05" y="1411.69" width="47.41" height="10.62" fill="#180c04"/><rect x="1405.05" y="1422.01" width="47.41" height="6.29" fill="#0a220e"/><rect x="1452.16" y="1314.72" width="47.41" height="4.72" fill="#001808"/><rect x="1452.16" y="1319.14" width="47.41" height="5.16" fill="#064a12"/><rect x="1452.16" y="1324" width="47.41" height="5.16" fill="#b01810"/><rect x="1452.16" y="1328.87" width="47.41" height="6.49" fill="#180804"/><rect x="1452.16" y="1335.06" width="47.41" height="3.54" fill="#901410"/><rect x="1452.16" y="1338.3" width="47.41" height="19.17" fill="#200c04"/><rect x="1452.16" y="1357.16" width="47.41" height="12.09" fill="#180c04"/><rect x="1452.16" y="1368.95" width="47.41" height="9.88" fill="#240c04"/><rect x="1452.16" y="1378.53" width="47.41" height="4.72" fill="#0a200c"/><rect x="1452.16" y="1382.96" width="47.41" height="29.04" fill="#1a0c04"/><rect x="1452.16" y="1411.69" width="47.41" height="7.67" fill="#2a0c04"/><rect x="1452.16" y="1419.06" width="47.41" height="9.24" fill="#1a0c04"/><rect x="1499.27" y="1314.72" width="47.41" height="4.72" fill="#001808"/><rect x="1499.27" y="1319.14" width="47.41" height="10.03" fill="#06240e"/><rect x="1499.27" y="1328.87" width="47.41" height="4.28" fill="#200804"/><rect x="1499.27" y="1332.84" width="47.41" height="3.69" fill="#a01410"/><rect x="1499.27" y="1336.23" width="47.41" height="13.86" fill="#200c04"/><rect x="1499.27" y="1349.79" width="47.41" height="7.67" fill="#300c04"/><rect x="1499.27" y="1357.16" width="47.41" height="13.56" fill="#200c04"/><rect x="1499.27" y="1370.43" width="47.41" height="6.2" fill="#300c04"/><rect x="1499.27" y="1376.32" width="47.41" height="7.67" fill="#200c04"/><rect x="1499.27" y="1383.69" width="47.41" height="16.51" fill="#2c0c04"/><rect x="1499.27" y="1399.9" width="47.41" height="28.4" fill="#1a0c04"/><rect x="1546.38" y="1314.72" width="47.41" height="4.72" fill="#001808"/><rect x="1546.38" y="1319.14" width="47.41" height="5.16" fill="#200804"/><rect x="1546.38" y="1324" width="47.41" height="5.16" fill="#801008"/><rect x="1546.38" y="1328.87" width="47.41" height="6.49" fill="#200804"/><rect x="1546.38" y="1335.06" width="47.41" height="3.54" fill="#0a200c"/><rect x="1546.38" y="1338.3" width="47.41" height="30.96" fill="#200c04"/><rect x="1546.38" y="1368.95" width="47.41" height="2.51" fill="#0c1e0e"/><rect x="1546.38" y="1371.16" width="47.41" height="9.88" fill="#180c04"/><rect x="1546.38" y="1380.74" width="47.41" height="3.25" fill="#0a1e0c"/><rect x="1546.38" y="1383.69" width="47.41" height="25.36" fill="#160c04"/><rect x="1546.38" y="1408.75" width="47.41" height="19.55" fill="#1c0c04"/><rect x="1593.49" y="1314.72" width="47.41" height="4.72" fill="#001808"/><rect x="1593.49" y="1319.14" width="47.41" height="5.16" fill="#06240e"/><rect x="1593.49" y="1324" width="47.41" height="5.16" fill="#401008"/><rect x="1593.49" y="1328.87" width="47.41" height="4.28" fill="#280c04"/><rect x="1593.49" y="1332.84" width="47.41" height="3.25" fill="#601010"/><rect x="1593.49" y="1335.79" width="47.41" height="2.81" fill="#0a4a14"/><rect x="1593.49" y="1338.3" width="47.41" height="5.9" fill="#200c04"/><rect x="1593.49" y="1343.9" width="47.41" height="6.2" fill="#280c04"/><rect x="1593.49" y="1349.79" width="47.41" height="7.67" fill="#3a0c04"/><rect x="1593.49" y="1357.16" width="47.41" height="13.56" fill="#160c04"/><rect x="1593.49" y="1370.43" width="47.41" height="6.2" fill="#0a200c"/><rect x="1593.49" y="1376.32" width="47.41" height="7.67" fill="#200c04"/><rect x="1593.49" y="1383.69" width="47.41" height="16.51" fill="#2c0c04"/><rect x="1593.49" y="1399.9" width="47.41" height="20.93" fill="#1c0c04"/><rect x="1593.49" y="1420.54" width="47.41" height="3.25" fill="#0a1e0c"/><rect x="1593.49" y="1423.49" width="47.41" height="4.81" fill="#1c0c04"/><rect x="1169.5" y="1428" width="47.41" height="10.73" fill="#06240e"/><rect x="1169.5" y="1438.43" width="47.41" height="11.49" fill="#0c1a0c"/><rect x="1169.5" y="1449.62" width="47.41" height="15.22" fill="#062a0e"/><rect x="1169.5" y="1464.54" width="47.41" height="10" fill="#200c04"/><rect x="1169.5" y="1474.24" width="47.41" height="10" fill="#180c04"/><rect x="1169.5" y="1483.94" width="47.41" height="11.49" fill="#08280e"/><rect x="1169.5" y="1495.13" width="47.41" height="7.76" fill="#0c1a0c"/><rect x="1169.5" y="1502.59" width="47.41" height="9.25" fill="#08280e"/><rect x="1169.5" y="1511.54" width="47.41" height="10" fill="#06380e"/><rect x="1169.5" y="1521.24" width="47.41" height="5.52" fill="#107a18"/><rect x="1169.5" y="1526.46" width="47.41" height="6.27" fill="#0c1a0c"/><rect x="1169.5" y="1532.43" width="47.41" height="8.51" fill="#08280e"/><rect x="1169.5" y="1540.64" width="47.41" height="1.66" fill="#200c04"/><rect x="1216.61" y="1428" width="47.41" height="6.25" fill="#200c04"/><rect x="1216.61" y="1433.95" width="47.41" height="11.49" fill="#160c04"/><rect x="1216.61" y="1445.14" width="47.41" height="2.54" fill="#501008"/><rect x="1216.61" y="1447.38" width="47.41" height="2.54" fill="#200c04"/><rect x="1216.61" y="1449.62" width="47.41" height="15.22" fill="#400c04"/><rect x="1216.61" y="1464.54" width="47.41" height="13.73" fill="#2a0c04"/><rect x="1216.61" y="1477.97" width="47.41" height="3.28" fill="#6a1008"/><rect x="1216.61" y="1480.95" width="47.41" height="21.94" fill="#300c04"/><rect x="1216.61" y="1502.59" width="47.41" height="10" fill="#2e0c04"/><rect x="1216.61" y="1512.29" width="47.41" height="4.78" fill="#501008"/><rect x="1216.61" y="1516.76" width="47.41" height="4.78" fill="#200804"/><rect x="1216.61" y="1521.24" width="47.41" height="10" fill="#400c04"/><rect x="1216.61" y="1530.94" width="47.41" height="10" fill="#200c04"/><rect x="1216.61" y="1540.64" width="47.41" height="1.66" fill="#062a0e"/><rect x="1263.72" y="1428" width="47.41" height="11.47" fill="#200c04"/><rect x="1263.72" y="1439.17" width="47.41" height="10.74" fill="#220c04"/><rect x="1263.72" y="1449.62" width="47.41" height="7.76" fill="#300c04"/><rect x="1263.72" y="1457.08" width="47.41" height="7.76" fill="#500c04"/><rect x="1263.72" y="1464.54" width="47.41" height="13.73" fill="#300c04"/><rect x="1263.72" y="1477.97" width="47.41" height="3.28" fill="#601008"/><rect x="1263.72" y="1480.95" width="47.41" height="14.47" fill="#2e0c04"/><rect x="1263.72" y="1495.13" width="47.41" height="7.76" fill="#200c04"/><rect x="1263.72" y="1502.59" width="47.41" height="4.78" fill="#140c04"/><rect x="1263.72" y="1507.07" width="47.41" height="5.52" fill="#240c04"/><rect x="1263.72" y="1512.29" width="47.41" height="4.78" fill="#601010"/><rect x="1263.72" y="1516.76" width="47.41" height="10" fill="#500c04"/><rect x="1263.72" y="1526.46" width="47.41" height="8.51" fill="#200c04"/><rect x="1263.72" y="1534.67" width="47.41" height="6.27" fill="#160c04"/><rect x="1263.72" y="1540.64" width="47.41" height="1.66" fill="#400c04"/><rect x="1310.83" y="1428" width="47.41" height="4.76" fill="#0c1a0c"/><rect x="1310.83" y="1432.46" width="47.41" height="12.24" fill="#06280e"/><rect x="1310.83" y="1444.4" width="47.41" height="4.03" fill="#0c300e"/><rect x="1310.83" y="1448.13" width="47.41" height="9.25" fill="#300c04"/><rect x="1310.83" y="1457.08" width="47.41" height="12.24" fill="#200c04"/><rect x="1310.83" y="1469.02" width="47.41" height="5.52" fill="#0a200c"/><rect x="1310.83" y="1474.24" width="47.41" height="7.01" fill="#180c04"/><rect x="1310.83" y="1480.95" width="47.41" height="4.78" fill="#0a260e"/><rect x="1310.83" y="1485.43" width="47.41" height="17.46" fill="#200c04"/><rect x="1310.83" y="1502.59" width="47.41" height="9.25" fill="#160c04"/><rect x="1310.83" y="1511.54" width="47.41" height="6.27" fill="#2c0c04"/><rect x="1310.83" y="1517.51" width="47.41" height="9.25" fill="#300c04"/><rect x="1310.83" y="1526.46" width="47.41" height="4.78" fill="#180c04"/><rect x="1310.83" y="1530.94" width="47.41" height="10" fill="#0c1a0c"/><rect x="1310.83" y="1540.64" width="47.41" height="1.66" fill="#08280e"/><rect x="1357.94" y="1428" width="47.41" height="8.49" fill="#3a0c04"/><rect x="1357.94" y="1436.19" width="47.41" height="12.98" fill="#2a0c04"/><rect x="1357.94" y="1448.87" width="47.41" height="8.51" fill="#06300e"/><rect x="1357.94" y="1457.08" width="47.41" height="16.71" fill="#0c1a0c"/><rect x="1357.94" y="1473.49" width="47.41" height="5.52" fill="#08280e"/><rect x="1357.94" y="1478.72" width="47.41" height="2.54" fill="#107a18"/><rect x="1357.94" y="1480.95" width="47.41" height="4.03" fill="#08280e"/><rect x="1357.94" y="1484.68" width="47.41" height="25.67" fill="#06300e"/><rect x="1357.94" y="1510.05" width="47.41" height="7.76" fill="#180c04"/><rect x="1357.94" y="1517.51" width="47.41" height="4.03" fill="#240c04"/><rect x="1357.94" y="1521.24" width="47.41" height="10" fill="#06280e"/><rect x="1357.94" y="1530.94" width="47.41" height="2.54" fill="#300c04"/><rect x="1357.94" y="1533.18" width="47.41" height="7.76" fill="#06280e"/><rect x="1357.94" y="1540.64" width="47.41" height="1.66" fill="#7a1010"/><rect x="1405.05" y="1428" width="47.41" height="3.2" fill="#08240e"/><rect x="1405.05" y="1430.9" width="47.41" height="7.67" fill="#063010"/><rect x="1405.05" y="1438.26" width="47.41" height="11.35" fill="#06280e"/><rect x="1405.05" y="1449.32" width="47.41" height="7.67" fill="#200c04"/><rect x="1405.05" y="1456.69" width="47.41" height="7.67" fill="#180c04"/><rect x="1405.05" y="1464.06" width="47.41" height="9.88" fill="#200c04"/><rect x="1405.05" y="1473.64" width="47.41" height="9.88" fill="#08280e"/><rect x="1405.05" y="1483.22" width="47.41" height="2.51" fill="#0a200c"/><rect x="1405.05" y="1485.43" width="47.41" height="35.67" fill="#200c04"/><rect x="1405.05" y="1520.8" width="47.41" height="6.2" fill="#108a18"/><rect x="1405.05" y="1526.69" width="47.41" height="14.3" fill="#08280e"/><rect x="1405.05" y="1540.7" width="47.41" height="1.6" fill="#200c04"/><rect x="1452.16" y="1428" width="47.41" height="3.2" fill="#160c04"/><rect x="1452.16" y="1430.9" width="47.41" height="3.25" fill="#200804"/><rect x="1452.16" y="1433.84" width="47.41" height="11.35" fill="#160c04"/><rect x="1452.16" y="1444.9" width="47.41" height="4.72" fill="#0a200c"/><rect x="1452.16" y="1449.32" width="47.41" height="7.67" fill="#180c04"/><rect x="1452.16" y="1456.69" width="47.41" height="7.67" fill="#0c1a0c"/><rect x="1452.16" y="1464.06" width="47.41" height="9.88" fill="#160c04"/><rect x="1452.16" y="1473.64" width="47.41" height="9.88" fill="#200c04"/><rect x="1452.16" y="1483.22" width="47.41" height="2.51" fill="#180c04"/><rect x="1452.16" y="1485.43" width="47.41" height="25.36" fill="#200c04"/><rect x="1452.16" y="1510.48" width="47.41" height="6.93" fill="#581010"/><rect x="1452.16" y="1517.11" width="47.41" height="9.88" fill="#2c0c04"/><rect x="1452.16" y="1526.69" width="47.41" height="4.72" fill="#064012"/><rect x="1452.16" y="1531.12" width="47.41" height="11.18" fill="#0c1a0c"/><rect x="1499.27" y="1428" width="47.41" height="3.2" fill="#160c04"/><rect x="1499.27" y="1430.9" width="47.41" height="15.04" fill="#200c04"/><rect x="1499.27" y="1445.63" width="47.41" height="3.25" fill="#300c04"/><rect x="1499.27" y="1448.58" width="47.41" height="8.41" fill="#180c04"/><rect x="1499.27" y="1456.69" width="47.41" height="17.25" fill="#2c0c04"/><rect x="1499.27" y="1473.64" width="47.41" height="7.67" fill="#400c04"/><rect x="1499.27" y="1481.01" width="47.41" height="4.72" fill="#200c04"/><rect x="1499.27" y="1485.43" width="47.41" height="22.41" fill="#2a0c04"/><rect x="1499.27" y="1507.54" width="47.41" height="3.25" fill="#200c04"/><rect x="1499.27" y="1510.48" width="47.41" height="10.62" fill="#300c04"/><rect x="1499.27" y="1520.8" width="47.41" height="6.2" fill="#0c1a0c"/><rect x="1499.27" y="1526.69" width="47.41" height="4.72" fill="#064012"/><rect x="1499.27" y="1531.12" width="47.41" height="9.88" fill="#0c1a0c"/><rect x="1499.27" y="1540.7" width="47.41" height="1.6" fill="#08280e"/><rect x="1546.38" y="1428" width="47.41" height="3.2" fill="#200c04"/><rect x="1546.38" y="1430.9" width="47.41" height="48.2" fill="#160c04"/><rect x="1546.38" y="1478.8" width="47.41" height="31.99" fill="#0c1a0c"/><rect x="1546.38" y="1510.48" width="47.41" height="6.2" fill="#08280e"/><rect x="1546.38" y="1516.38" width="47.41" height="4.72" fill="#0a200c"/><rect x="1546.38" y="1520.8" width="47.41" height="6.2" fill="#180c04"/><rect x="1546.38" y="1526.69" width="47.41" height="6.93" fill="#0c1a0c"/><rect x="1546.38" y="1533.33" width="47.41" height="7.67" fill="#08280e"/><rect x="1546.38" y="1540.7" width="47.41" height="1.6" fill="#200c04"/><rect x="1593.49" y="1428" width="47.41" height="17.2" fill="#200c04"/><rect x="1593.49" y="1444.9" width="47.41" height="3.25" fill="#401008"/><rect x="1593.49" y="1447.84" width="47.41" height="9.14" fill="#180c04"/><rect x="1593.49" y="1456.69" width="47.41" height="7.67" fill="#2a0c04"/><rect x="1593.49" y="1464.06" width="47.41" height="4.72" fill="#200c04"/><rect x="1593.49" y="1468.48" width="47.41" height="10.62" fill="#2c0c04"/><rect x="1593.49" y="1478.8" width="47.41" height="6.93" fill="#200c04"/><rect x="1593.49" y="1485.43" width="47.41" height="15.04" fill="#240c04"/><rect x="1593.49" y="1500.17" width="47.41" height="10.62" fill="#200c04"/><rect x="1593.49" y="1510.48" width="47.41" height="6.93" fill="#180c04"/><rect x="1593.49" y="1517.11" width="47.41" height="14.3" fill="#200c04"/><rect x="1593.49" y="1531.12" width="47.41" height="9.88" fill="#0c1a0c"/><rect x="1593.49" y="1540.7" width="47.41" height="1.6" fill="#300c04"/><rect x="1169.5" y="1542" width="47.41" height="8.74" fill="#2a0c04"/><rect x="1169.5" y="1550.44" width="47.41" height="10" fill="#08280e"/><rect x="1169.5" y="1560.14" width="47.41" height="2.54" fill="#0c1a0c"/><rect x="1169.5" y="1562.38" width="47.41" height="17.46" fill="#06300e"/><rect x="1169.5" y="1579.54" width="47.41" height="2.54" fill="#0a200c"/><rect x="1169.5" y="1581.78" width="47.41" height="4.03" fill="#300c04"/><rect x="1169.5" y="1585.51" width="47.41" height="5.52" fill="#08280e"/><rect x="1169.5" y="1590.73" width="47.41" height="4.78" fill="#0c1a0c"/><rect x="1169.5" y="1595.21" width="47.41" height="7.76" fill="#160c04"/><rect x="1169.5" y="1602.67" width="47.41" height="15.22" fill="#200c04"/><rect x="1169.5" y="1617.59" width="47.41" height="4.03" fill="#0c1a0c"/><rect x="1169.5" y="1621.32" width="47.41" height="7.76" fill="#300c04"/><rect x="1169.5" y="1628.78" width="47.41" height="4.78" fill="#180c04"/><rect x="1169.5" y="1633.26" width="47.41" height="4.78" fill="#300c04"/><rect x="1169.5" y="1637.73" width="47.41" height="3.28" fill="#10b010"/><rect x="1169.5" y="1640.72" width="47.41" height="2.54" fill="#0a200c"/><rect x="1169.5" y="1642.95" width="47.41" height="7.76" fill="#087a12"/><rect x="1169.5" y="1650.41" width="47.41" height="2.54" fill="#0c1a0c"/><rect x="1169.5" y="1652.65" width="47.41" height="4.65" fill="#08601a"/><rect x="1216.61" y="1542" width="47.41" height="20.68" fill="#06240e"/><rect x="1216.61" y="1562.38" width="47.41" height="7.01" fill="#200c04"/><rect x="1216.61" y="1569.1" width="47.41" height="3.28" fill="#08300e"/><rect x="1216.61" y="1572.08" width="47.41" height="7.01" fill="#06240e"/><rect x="1216.61" y="1578.79" width="47.41" height="2.54" fill="#200c04"/><rect x="1216.61" y="1581.03" width="47.41" height="7.76" fill="#300c04"/><rect x="1216.61" y="1588.49" width="47.41" height="7.01" fill="#08280e"/><rect x="1216.61" y="1595.21" width="47.41" height="14.47" fill="#3a0c04"/><rect x="1216.61" y="1609.38" width="47.41" height="2.54" fill="#400c04"/><rect x="1216.61" y="1611.62" width="47.41" height="7.01" fill="#3a0c04"/><rect x="1216.61" y="1618.33" width="47.41" height="8.51" fill="#08280e"/><rect x="1216.61" y="1626.54" width="47.41" height="2.54" fill="#064012"/><rect x="1216.61" y="1628.78" width="47.41" height="5.52" fill="#08300e"/><rect x="1216.61" y="1634" width="47.41" height="6.27" fill="#06280e"/><rect x="1216.61" y="1639.97" width="47.41" height="2.54" fill="#0c1a0c"/><rect x="1216.61" y="1642.21" width="47.41" height="8.51" fill="#06280e"/><rect x="1216.61" y="1650.41" width="47.41" height="6.89" fill="#0c1a0c"/><rect x="1263.72" y="1542" width="47.41" height="3.52" fill="#3a0c04"/><rect x="1263.72" y="1545.22" width="47.41" height="4.78" fill="#200804"/><rect x="1263.72" y="1549.7" width="47.41" height="2.54" fill="#0a4a14"/><rect x="1263.72" y="1551.94" width="47.41" height="7.76" fill="#200c04"/><rect x="1263.72" y="1559.4" width="47.41" height="10" fill="#300c04"/><rect x="1263.72" y="1569.1" width="47.41" height="10" fill="#08300e"/><rect x="1263.72" y="1578.79" width="47.41" height="2.54" fill="#10a010"/><rect x="1263.72" y="1581.03" width="47.41" height="2.54" fill="#200c04"/><rect x="1263.72" y="1583.27" width="47.41" height="4.78" fill="#0a200c"/><rect x="1263.72" y="1587.75" width="47.41" height="3.28" fill="#300c04"/><rect x="1263.72" y="1590.73" width="47.41" height="4.78" fill="#08280e"/><rect x="1263.72" y="1595.21" width="47.41" height="13.73" fill="#0c1a0c"/><rect x="1263.72" y="1608.64" width="47.41" height="9.25" fill="#0c200c"/><rect x="1263.72" y="1617.59" width="47.41" height="9.25" fill="#0c1a0c"/><rect x="1263.72" y="1626.54" width="47.41" height="7.01" fill="#064012"/><rect x="1263.72" y="1633.26" width="47.41" height="4.78" fill="#06300e"/><rect x="1263.72" y="1637.73" width="47.41" height="4.03" fill="#08380e"/><rect x="1263.72" y="1641.46" width="47.41" height="9.25" fill="#085a12"/><rect x="1263.72" y="1650.41" width="47.41" height="6.89" fill="#06300e"/><rect x="1310.83" y="1542" width="47.41" height="8" fill="#0c1a0c"/><rect x="1310.83" y="1549.7" width="47.41" height="12.98" fill="#06300e"/><rect x="1310.83" y="1562.38" width="47.41" height="7.01" fill="#0c1a0c"/><rect x="1310.83" y="1569.1" width="47.41" height="10" fill="#08300e"/><rect x="1310.83" y="1578.79" width="47.41" height="2.54" fill="#600c08"/><rect x="1310.83" y="1581.03" width="47.41" height="5.52" fill="#160c04"/><rect x="1310.83" y="1586.25" width="47.41" height="4.78" fill="#200c04"/><rect x="1310.83" y="1590.73" width="47.41" height="4.78" fill="#0c1a0c"/><rect x="1310.83" y="1595.21" width="47.41" height="14.47" fill="#300c04"/><rect x="1310.83" y="1609.38" width="47.41" height="8.51" fill="#3a0c04"/><rect x="1310.83" y="1617.59" width="47.41" height="4.03" fill="#200c04"/><rect x="1310.83" y="1621.32" width="47.41" height="7.76" fill="#180c04"/><rect x="1310.83" y="1628.78" width="47.41" height="9.25" fill="#0c1a0c"/><rect x="1310.83" y="1637.73" width="47.41" height="3.28" fill="#0a4a14"/><rect x="1310.83" y="1640.72" width="47.41" height="10" fill="#260c04"/><rect x="1310.83" y="1650.41" width="47.41" height="6.89" fill="#06300e"/><rect x="1357.94" y="1542" width="47.41" height="1.28" fill="#801010"/><rect x="1357.94" y="1542.98" width="47.41" height="10" fill="#2a0c04"/><rect x="1357.94" y="1552.68" width="47.41" height="6.27" fill="#7a1010"/><rect x="1357.94" y="1558.65" width="47.41" height="4.03" fill="#801010"/><rect x="1357.94" y="1562.38" width="47.41" height="16.71" fill="#200c04"/><rect x="1357.94" y="1578.79" width="47.41" height="12.24" fill="#0c200c"/><rect x="1357.94" y="1590.73" width="47.41" height="30.89" fill="#06300e"/><rect x="1357.94" y="1621.32" width="47.41" height="7.76" fill="#180c04"/><rect x="1357.94" y="1628.78" width="47.41" height="9.25" fill="#0c1a0c"/><rect x="1357.94" y="1637.73" width="47.41" height="5.52" fill="#10b010"/><rect x="1357.94" y="1642.95" width="47.41" height="1.79" fill="#0a8a12"/><rect x="1357.94" y="1644.45" width="47.41" height="6.27" fill="#10b010"/><rect x="1357.94" y="1650.41" width="47.41" height="2.54" fill="#0c1a0c"/><rect x="1357.94" y="1652.65" width="47.41" height="4.65" fill="#085a12"/><rect x="1405.05" y="1542" width="47.41" height="10.83" fill="#2a0c04"/><rect x="1405.05" y="1552.53" width="47.41" height="17.25" fill="#06300e"/><rect x="1405.05" y="1569.48" width="47.41" height="2.51" fill="#08380e"/><rect x="1405.05" y="1571.69" width="47.41" height="7.67" fill="#06300e"/><rect x="1405.05" y="1579.06" width="47.41" height="2.51" fill="#08280e"/><rect x="1405.05" y="1581.27" width="47.41" height="4.72" fill="#300c04"/><rect x="1405.05" y="1585.69" width="47.41" height="3.25" fill="#08280e"/><rect x="1405.05" y="1588.64" width="47.41" height="7.67" fill="#160c04"/><rect x="1405.05" y="1596.01" width="47.41" height="6.2" fill="#1e0c04"/><rect x="1405.05" y="1601.9" width="47.41" height="17.99" fill="#280c04"/><rect x="1405.05" y="1619.59" width="47.41" height="6.2" fill="#200c04"/><rect x="1405.05" y="1625.48" width="47.41" height="3.25" fill="#400c04"/><rect x="1405.05" y="1628.43" width="47.41" height="9.88" fill="#200c04"/><rect x="1405.05" y="1638.01" width="47.41" height="3.25" fill="#10a010"/><rect x="1405.05" y="1640.96" width="47.41" height="8.41" fill="#0a200c"/><rect x="1405.05" y="1649.06" width="47.41" height="3.25" fill="#08280e"/><rect x="1405.05" y="1652.01" width="47.41" height="5.29" fill="#064014"/><rect x="1452.16" y="1542" width="47.41" height="4.2" fill="#0c1a0c"/><rect x="1452.16" y="1545.9" width="47.41" height="6.93" fill="#160c04"/><rect x="1452.16" y="1552.53" width="47.41" height="7.67" fill="#200c04"/><rect x="1452.16" y="1559.9" width="47.41" height="2.51" fill="#300c04"/><rect x="1452.16" y="1562.11" width="47.41" height="14.3" fill="#180c04"/><rect x="1452.16" y="1576.11" width="47.41" height="3.25" fill="#0a200c"/><rect x="1452.16" y="1579.06" width="47.41" height="3.25" fill="#0a6a12"/><rect x="1452.16" y="1582" width="47.41" height="3.98" fill="#0a200c"/><rect x="1452.16" y="1585.69" width="47.41" height="5.46" fill="#08300e"/><rect x="1452.16" y="1590.85" width="47.41" height="4.72" fill="#0c1a0c"/><rect x="1452.16" y="1595.27" width="47.41" height="6.93" fill="#200c04"/><rect x="1452.16" y="1601.9" width="47.41" height="17.99" fill="#0c1a0c"/><rect x="1452.16" y="1619.59" width="47.41" height="9.14" fill="#08280e"/><rect x="1452.16" y="1628.43" width="47.41" height="9.88" fill="#06300e"/><rect x="1452.16" y="1638.01" width="47.41" height="3.25" fill="#10a010"/><rect x="1452.16" y="1640.96" width="47.41" height="16.34" fill="#0c1c0c"/><rect x="1499.27" y="1542" width="47.41" height="4.2" fill="#062a0e"/><rect x="1499.27" y="1545.9" width="47.41" height="3.98" fill="#0c1a0c"/><rect x="1499.27" y="1549.58" width="47.41" height="10.62" fill="#180c04"/><rect x="1499.27" y="1559.9" width="47.41" height="2.51" fill="#08280e"/><rect x="1499.27" y="1562.11" width="47.41" height="15.04" fill="#200c04"/><rect x="1499.27" y="1576.85" width="47.41" height="2.07" fill="#000000"/><rect x="1499.27" y="1578.61" width="47.41" height="2.95" fill="#20f020"/><rect x="1499.27" y="1581.27" width="47.41" height="3.98" fill="#08280e"/><rect x="1499.27" y="1584.95" width="47.41" height="3.98" fill="#400c04"/><rect x="1499.27" y="1588.64" width="47.41" height="20.2" fill="#0c1e0c"/><rect x="1499.27" y="1608.53" width="47.41" height="11.35" fill="#06300e"/><rect x="1499.27" y="1619.59" width="47.41" height="6.93" fill="#0c1a0c"/><rect x="1499.27" y="1626.22" width="47.41" height="12.09" fill="#06300e"/><rect x="1499.27" y="1638.01" width="47.41" height="3.25" fill="#08280e"/><rect x="1499.27" y="1640.96" width="47.41" height="8.41" fill="#160c04"/><rect x="1499.27" y="1649.06" width="47.41" height="8.24" fill="#240c04"/><rect x="1546.38" y="1542" width="47.41" height="7.14" fill="#200c04"/><rect x="1546.38" y="1548.84" width="47.41" height="3.98" fill="#701010"/><rect x="1546.38" y="1552.53" width="47.41" height="14.3" fill="#200c04"/><rect x="1546.38" y="1566.53" width="47.41" height="2.51" fill="#0a200c"/><rect x="1546.38" y="1568.74" width="47.41" height="10.62" fill="#200c04"/><rect x="1546.38" y="1579.06" width="47.41" height="2.51" fill="#0a4a14"/><rect x="1546.38" y="1581.27" width="47.41" height="7.67" fill="#200c04"/><rect x="1546.38" y="1588.64" width="47.41" height="6.93" fill="#2c0c04"/><rect x="1546.38" y="1595.27" width="47.41" height="24.62" fill="#0c1a0c"/><rect x="1546.38" y="1619.59" width="47.41" height="7.67" fill="#200c04"/><rect x="1546.38" y="1626.96" width="47.41" height="11.35" fill="#0c1a0c"/><rect x="1546.38" y="1638.01" width="47.41" height="3.25" fill="#6a1008"/><rect x="1546.38" y="1640.96" width="47.41" height="2.51" fill="#0c1a0c"/><rect x="1546.38" y="1643.17" width="47.41" height="6.93" fill="#065012"/><rect x="1546.38" y="1649.8" width="47.41" height="7.5" fill="#08280e"/><rect x="1593.49" y="1542" width="47.41" height="4.93" fill="#3a0c04"/><rect x="1593.49" y="1546.63" width="47.41" height="3.25" fill="#0c1a0c"/><rect x="1593.49" y="1549.58" width="47.41" height="3.25" fill="#801010"/><rect x="1593.49" y="1552.53" width="47.41" height="7.67" fill="#200c04"/><rect x="1593.49" y="1559.9" width="47.41" height="9.88" fill="#0c1a0c"/><rect x="1593.49" y="1569.48" width="47.41" height="9.14" fill="#200c04"/><rect x="1593.49" y="1578.32" width="47.41" height="3.25" fill="#0a4a14"/><rect x="1593.49" y="1581.27" width="47.41" height="14.3" fill="#300c04"/><rect x="1593.49" y="1595.27" width="47.41" height="15.78" fill="#0c1e0c"/><rect x="1593.49" y="1610.74" width="47.41" height="6.93" fill="#08300e"/><rect x="1593.49" y="1617.38" width="47.41" height="4.72" fill="#0c1a0c"/><rect x="1593.49" y="1621.8" width="47.41" height="5.46" fill="#300c04"/><rect x="1593.49" y="1626.96" width="47.41" height="1.77" fill="#0c1a0c"/><rect x="1593.49" y="1628.43" width="47.41" height="5.46" fill="#400c04"/><rect x="1593.49" y="1633.59" width="47.41" height="4.72" fill="#0c1a0c"/><rect x="1593.49" y="1638.01" width="47.41" height="3.25" fill="#500c04"/><rect x="1593.49" y="1640.96" width="47.41" height="2.51" fill="#0a200c"/><rect x="1593.49" y="1643.17" width="47.41" height="6.93" fill="#0a260e"/><rect x="1593.49" y="1649.8" width="47.41" height="7.5" fill="#0c1a0c"/><rect x="1169.5" y="1657" width="47.41" height="0.54" fill="#085a12"/><rect x="1169.5" y="1657.24" width="47.41" height="14.47" fill="#06300e"/><rect x="1169.5" y="1671.41" width="47.41" height="2.54" fill="#085a12"/><rect x="1169.5" y="1673.65" width="47.41" height="14.47" fill="#06280e"/><rect x="1169.5" y="1687.83" width="47.41" height="7.76" fill="#0a7012"/><rect x="1169.5" y="1695.29" width="47.41" height="7.76" fill="#0a8a12"/><rect x="1169.5" y="1702.75" width="47.41" height="12.24" fill="#06300e"/><rect x="1169.5" y="1714.68" width="47.41" height="12.24" fill="#0a4a0c"/><rect x="1169.5" y="1726.62" width="47.41" height="7.76" fill="#3a0804"/><rect x="1169.5" y="1734.08" width="47.41" height="7.01" fill="#180804"/><rect x="1169.5" y="1740.8" width="47.41" height="4.78" fill="#801008"/><rect x="1169.5" y="1745.27" width="47.41" height="5.52" fill="#e02010"/><rect x="1169.5" y="1750.49" width="47.41" height="4.78" fill="#30f020"/><rect x="1169.5" y="1754.97" width="47.41" height="7.01" fill="#0a4a0c"/><rect x="1169.5" y="1761.68" width="47.41" height="24.02" fill="#00ff00"/><rect x="1216.61" y="1657" width="47.41" height="10.24" fill="#0c1a0c"/><rect x="1216.61" y="1666.94" width="47.41" height="4.78" fill="#300804"/><rect x="1216.61" y="1671.41" width="47.41" height="5.52" fill="#0c1a0c"/><rect x="1216.61" y="1676.64" width="47.41" height="2.54" fill="#085a12"/><rect x="1216.61" y="1678.87" width="47.41" height="16.71" fill="#06280e"/><rect x="1216.61" y="1695.29" width="47.41" height="7.76" fill="#085a12"/><rect x="1216.61" y="1702.75" width="47.41" height="12.24" fill="#0a7012"/><rect x="1216.61" y="1714.68" width="47.41" height="12.24" fill="#0a4a0c"/><rect x="1216.61" y="1726.62" width="47.41" height="7.76" fill="#300804"/><rect x="1216.61" y="1734.08" width="47.41" height="7.01" fill="#380804"/><rect x="1216.61" y="1740.8" width="47.41" height="7.01" fill="#601010"/><rect x="1216.61" y="1747.51" width="47.41" height="3.28" fill="#e82010"/><rect x="1216.61" y="1750.49" width="47.41" height="3.28" fill="#300804"/><rect x="1216.61" y="1753.48" width="47.41" height="8.51" fill="#06300e"/><rect x="1216.61" y="1761.68" width="47.41" height="4.78" fill="#085a12"/><rect x="1216.61" y="1766.16" width="47.41" height="19.54" fill="#00ff00"/><rect x="1263.72" y="1657" width="47.41" height="7.25" fill="#06300e"/><rect x="1263.72" y="1663.95" width="47.41" height="10.74" fill="#0c1a0c"/><rect x="1263.72" y="1674.4" width="47.41" height="13.73" fill="#06280e"/><rect x="1263.72" y="1687.83" width="47.41" height="7.76" fill="#06300e"/><rect x="1263.72" y="1695.29" width="47.41" height="19.7" fill="#085a12"/><rect x="1263.72" y="1714.68" width="47.41" height="12.24" fill="#0a7012"/><rect x="1263.72" y="1726.62" width="47.41" height="7.76" fill="#4a0804"/><rect x="1263.72" y="1734.08" width="47.41" height="7.01" fill="#180804"/><rect x="1263.72" y="1740.8" width="47.41" height="5.52" fill="#400804"/><rect x="1263.72" y="1746.02" width="47.41" height="2.54" fill="#180804"/><rect x="1263.72" y="1748.26" width="47.41" height="4.78" fill="#a01410"/><rect x="1263.72" y="1752.73" width="47.41" height="2.54" fill="#06300e"/><rect x="1263.72" y="1754.97" width="47.41" height="7.76" fill="#00ff00"/><rect x="1263.72" y="1762.43" width="47.41" height="4.03" fill="#10b010"/><rect x="1263.72" y="1766.16" width="47.41" height="19.54" fill="#00ff00"/><rect x="1310.83" y="1657" width="47.41" height="7.25" fill="#06300e"/><rect x="1310.83" y="1663.95" width="47.41" height="6.27" fill="#0c1a0c"/><rect x="1310.83" y="1669.92" width="47.41" height="18.21" fill="#06280e"/><rect x="1310.83" y="1687.83" width="47.41" height="7.76" fill="#06300e"/><rect x="1310.83" y="1695.29" width="47.41" height="7.76" fill="#085a12"/><rect x="1310.83" y="1702.75" width="47.41" height="12.24" fill="#06300e"/><rect x="1310.83" y="1714.68" width="47.41" height="12.24" fill="#0a6a12"/><rect x="1310.83" y="1726.62" width="47.41" height="7.76" fill="#380804"/><rect x="1310.83" y="1734.08" width="47.41" height="4.78" fill="#180804"/><rect x="1310.83" y="1738.56" width="47.41" height="7.01" fill="#801008"/><rect x="1310.83" y="1745.27" width="47.41" height="5.52" fill="#f82010"/><rect x="1310.83" y="1750.49" width="47.41" height="3.28" fill="#600c08"/><rect x="1310.83" y="1753.48" width="47.41" height="1.79" fill="#0a4a0c"/><rect x="1310.83" y="1754.97" width="47.41" height="7.76" fill="#0c1a0c"/><rect x="1310.83" y="1762.43" width="47.41" height="4.03" fill="#06300e"/><rect x="1310.83" y="1766.16" width="47.41" height="19.54" fill="#00ff00"/><rect x="1357.94" y="1657" width="47.41" height="1.28" fill="#085a12"/><rect x="1357.94" y="1657.98" width="47.41" height="6.27" fill="#0c1a0c"/><rect x="1357.94" y="1663.95" width="47.41" height="7.76" fill="#085a12"/><rect x="1357.94" y="1671.41" width="47.41" height="7.76" fill="#06300e"/><rect x="1357.94" y="1678.87" width="47.41" height="2.54" fill="#085a12"/><rect x="1357.94" y="1681.11" width="47.41" height="7.01" fill="#06280e"/><rect x="1357.94" y="1687.83" width="47.41" height="39.09" fill="#0a7012"/><rect x="1357.94" y="1726.62" width="47.41" height="7.76" fill="#901810"/><rect x="1357.94" y="1734.08" width="47.41" height="7.01" fill="#500804"/><rect x="1357.94" y="1740.8" width="47.41" height="5.52" fill="#e02010"/><rect x="1357.94" y="1746.02" width="47.41" height="4.78" fill="#a01410"/><rect x="1357.94" y="1750.49" width="47.41" height="6.27" fill="#30f020"/><rect x="1357.94" y="1756.46" width="47.41" height="29.24" fill="#00ff00"/><rect x="1405.05" y="1657" width="47.41" height="0.51" fill="#085a12"/><rect x="1405.05" y="1657.21" width="47.41" height="14.3" fill="#06300e"/><rect x="1405.05" y="1671.21" width="47.41" height="3.25" fill="#085a12"/><rect x="1405.05" y="1674.16" width="47.41" height="21.67" fill="#06300e"/><rect x="1405.05" y="1695.53" width="47.41" height="7.67" fill="#0a7a12"/><rect x="1405.05" y="1702.9" width="47.41" height="23.88" fill="#064a0e"/><rect x="1405.05" y="1726.48" width="47.41" height="8.41" fill="#300804"/><rect x="1405.05" y="1734.59" width="47.41" height="6.2" fill="#200804"/><rect x="1405.05" y="1740.48" width="47.41" height="5.46" fill="#3a0804"/><rect x="1405.05" y="1745.64" width="47.41" height="4.72" fill="#801010"/><rect x="1405.05" y="1750.06" width="47.41" height="5.46" fill="#20f020"/><rect x="1405.05" y="1755.22" width="47.41" height="6.93" fill="#0c1a0c"/><rect x="1405.05" y="1761.85" width="47.41" height="5.46" fill="#049004"/><rect x="1405.05" y="1767.01" width="47.41" height="18.69" fill="#00ff00"/><rect x="1452.16" y="1657" width="47.41" height="7.88" fill="#0c1a0c"/><rect x="1452.16" y="1664.58" width="47.41" height="7.67" fill="#180804"/><rect x="1452.16" y="1671.95" width="47.41" height="2.51" fill="#500c08"/><rect x="1452.16" y="1674.16" width="47.41" height="5.46" fill="#200804"/><rect x="1452.16" y="1679.32" width="47.41" height="9.14" fill="#0c1a0c"/><rect x="1452.16" y="1688.16" width="47.41" height="7.67" fill="#300804"/><rect x="1452.16" y="1695.53" width="47.41" height="38.62" fill="#0c1a0c"/><rect x="1452.16" y="1733.85" width="47.41" height="4.72" fill="#08280e"/><rect x="1452.16" y="1738.27" width="47.41" height="7.67" fill="#0a6010"/><rect x="1452.16" y="1745.64" width="47.41" height="4.72" fill="#0a7a12"/><rect x="1452.16" y="1750.06" width="47.41" height="3.25" fill="#d02010"/><rect x="1452.16" y="1753.01" width="47.41" height="6.93" fill="#200804"/><rect x="1452.16" y="1759.64" width="47.41" height="2.51" fill="#601008"/><rect x="1452.16" y="1761.85" width="47.41" height="7.67" fill="#06280e"/><rect x="1452.16" y="1769.22" width="47.41" height="2.51" fill="#200804"/><rect x="1452.16" y="1771.43" width="47.41" height="5.46" fill="#400804"/><rect x="1452.16" y="1776.59" width="47.41" height="9.11" fill="#06240e"/><rect x="1499.27" y="1657" width="47.41" height="0.51" fill="#300804"/><rect x="1499.27" y="1657.21" width="47.41" height="7.67" fill="#06300e"/><rect x="1499.27" y="1664.58" width="47.41" height="7.67" fill="#200804"/><rect x="1499.27" y="1671.95" width="47.41" height="2.51" fill="#701010"/><rect x="1499.27" y="1674.16" width="47.41" height="14.3" fill="#200804"/><rect x="1499.27" y="1688.16" width="47.41" height="7.67" fill="#380804"/><rect x="1499.27" y="1695.53" width="47.41" height="19.46" fill="#0c1a0c"/><rect x="1499.27" y="1714.69" width="47.41" height="12.09" fill="#06300e"/><rect x="1499.27" y="1726.48" width="47.41" height="7.67" fill="#180804"/><rect x="1499.27" y="1733.85" width="47.41" height="4.72" fill="#06300e"/><rect x="1499.27" y="1738.27" width="47.41" height="6.93" fill="#0a6a10"/><rect x="1499.27" y="1744.9" width="47.41" height="3.25" fill="#20f020"/><rect x="1499.27" y="1747.85" width="47.41" height="5.46" fill="#200804"/><rect x="1499.27" y="1753.01" width="47.41" height="6.93" fill="#300804"/><rect x="1499.27" y="1759.64" width="47.41" height="2.51" fill="#08280e"/><rect x="1499.27" y="1761.85" width="47.41" height="5.46" fill="#180804"/><rect x="1499.27" y="1767.01" width="47.41" height="4.72" fill="#0c1a0c"/><rect x="1499.27" y="1771.43" width="47.41" height="5.46" fill="#701010"/><rect x="1499.27" y="1776.59" width="47.41" height="9.11" fill="#06240e"/><rect x="1546.38" y="1657" width="47.41" height="14.51" fill="#06300e"/><rect x="1546.38" y="1671.21" width="47.41" height="17.99" fill="#200804"/><rect x="1546.38" y="1688.9" width="47.41" height="6.93" fill="#300804"/><rect x="1546.38" y="1695.53" width="47.41" height="31.25" fill="#0c1a0c"/><rect x="1546.38" y="1726.48" width="47.41" height="7.67" fill="#06300e"/><rect x="1546.38" y="1733.85" width="47.41" height="4.72" fill="#0c1a0c"/><rect x="1546.38" y="1738.27" width="47.41" height="10.62" fill="#06280e"/><rect x="1546.38" y="1748.59" width="47.41" height="4.72" fill="#20f020"/><rect x="1546.38" y="1753.01" width="47.41" height="9.14" fill="#200804"/><rect x="1546.38" y="1761.85" width="47.41" height="7.67" fill="#08280e"/><rect x="1546.38" y="1769.22" width="47.41" height="7.67" fill="#300804"/><rect x="1546.38" y="1776.59" width="47.41" height="9.11" fill="#0c1a0c"/><rect x="1593.49" y="1657" width="47.41" height="7.88" fill="#0c1a0c"/><rect x="1593.49" y="1664.58" width="47.41" height="23.88" fill="#200804"/><rect x="1593.49" y="1688.16" width="47.41" height="7.67" fill="#501008"/><rect x="1593.49" y="1695.53" width="47.41" height="31.25" fill="#180804"/><rect x="1593.49" y="1726.48" width="47.41" height="7.67" fill="#06300e"/><rect x="1593.49" y="1733.85" width="47.41" height="4.72" fill="#0c1a0c"/><rect x="1593.49" y="1738.27" width="47.41" height="6.93" fill="#06400e"/><rect x="1593.49" y="1744.9" width="47.41" height="5.46" fill="#0a7a12"/><rect x="1593.49" y="1750.06" width="47.41" height="3.25" fill="#20f020"/><rect x="1593.49" y="1753.01" width="47.41" height="2.51" fill="#300804"/><rect x="1593.49" y="1755.22" width="47.41" height="4.72" fill="#b01810"/><rect x="1593.49" y="1759.64" width="47.41" height="2.51" fill="#08280e"/><rect x="1593.49" y="1761.85" width="47.41" height="5.46" fill="#600c08"/><rect x="1593.49" y="1767.01" width="47.41" height="4.72" fill="#0c1a0c"/><rect x="1593.49" y="1771.43" width="47.41" height="5.46" fill="#801010"/><rect x="1593.49" y="1776.59" width="47.41" height="9.11" fill="#180804"/></g>
<text style='font-family:"Liberation Sans",Arial,Helvetica,sans-serif;font-size:23px;' fill="#000" transform="translate(1132.7,1875.6) rotate(-45) translate(-1.74,0) scale(0.9208,1)">HX-Glc EC</text>
<text style='font-family:"Liberation Sans",Arial,Helvetica,sans-serif;font-size:23px;' fill="#000" transform="translate(1179.7,1875.6) rotate(-45) translate(-1.75,0) scale(0.9281,1)">HX-Glc AC</text>
<text style='font-family:"Liberation Sans",Arial,Helvetica,sans-serif;font-size:23px;' fill="#000" transform="translate(1221.8,1877.2) rotate(-45) translate(-0.04,0) scale(0.9650,1)">AX-Glc AC</text>
<text style='font-family:"Liberation Sans",Arial,Helvetica,sans-serif;font-size:23px;' fill="#000" transform="translate(1272,1875.6) rotate(-45) translate(-1.79,0) scale(0.9500,1)">NX-Glc AC</text>
<text style='font-family:"Liberation Sans",Arial,Helvetica,sans-serif;font-size:23px;' fill="#000" transform="translate(1312.5,1877.2) rotate(-45) translate(-0.04,0) scale(0.9360,1)">AX-Glc EC</text>
<text style='font-family:"Liberation Sans",Arial,Helvetica,sans-serif;font-size:23px;' fill="#000" transform="translate(1361.1,1875.6) rotate(-45) translate(-1.78,0) scale(0.9409,1)">NX-Glc EC</text>
<text style='font-family:"Liberation Sans",Arial,Helvetica,sans-serif;font-size:23px;' fill="#000" transform="translate(1413,1875.6) rotate(-45) translate(-1.78,0) scale(0.9458,1)">HX+Glc AC</text>
<text style='font-family:"Liberation Sans",Arial,Helvetica,sans-serif;font-size:23px;' fill="#000" transform="translate(1463.2,1877.2) rotate(-45) translate(-0.04,0) scale(0.9497,1)">AX+Glc AC</text>
<text style='font-family:"Liberation Sans",Arial,Helvetica,sans-serif;font-size:23px;' fill="#000" transform="translate(1510.2,1875.6) rotate(-45) translate(-1.76,0) scale(0.9337,1)">HX+Glc EC</text>
<text style='font-family:"Liberation Sans",Arial,Helvetica,sans-serif;font-size:23px;' fill="#000" transform="translate(1555.6,1877.2) rotate(-45) translate(-0.04,0) scale(0.9092,1)">AX+Glc EC</text>
</svg></body></html>
